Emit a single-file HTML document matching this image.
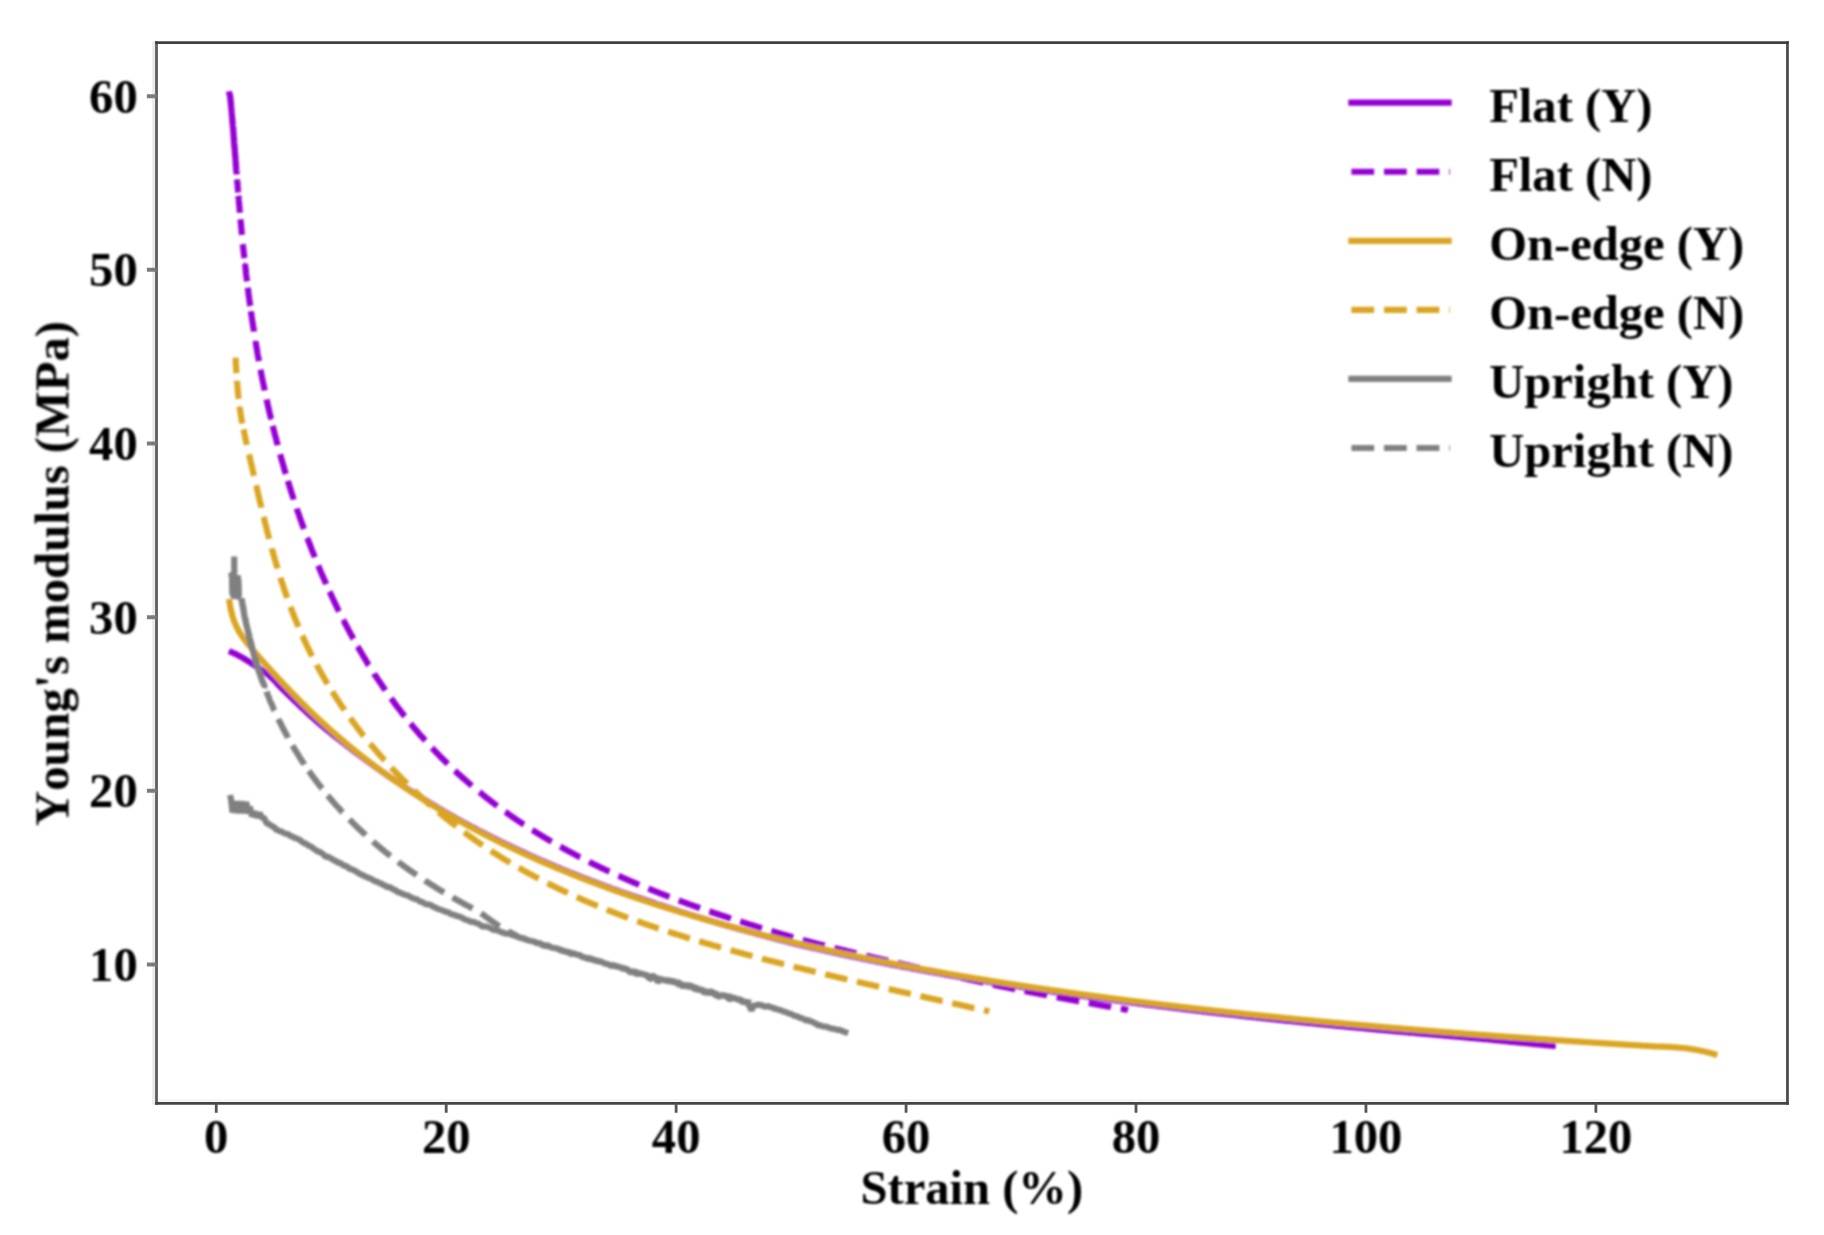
<!DOCTYPE html>
<html lang="en"><head><meta charset="utf-8"><title>Young's modulus vs strain</title>
<style>
html,body{margin:0;padding:0;background:#fff;}
body{width:1824px;height:1235px;overflow:hidden;}
svg{display:block;}
</style></head><body>
<svg width="1824" height="1235" viewBox="0 0 1824 1235">
<rect width="1824" height="1235" fill="#fff"/>
<filter id="soft" x="-2%" y="-2%" width="104%" height="104%"><feGaussianBlur stdDeviation="1"/></filter>
<clipPath id="ax"><rect x="156.5" y="42.7" width="1630.95" height="1060.6"/></clipPath>
<g filter="url(#soft)"><g clip-path="url(#ax)" fill="none" stroke-linejoin="bevel">
<path d="M231.7 652.2 L232.6 652.6 L233.5 653.0 L234.4 653.5 L235.3 653.9 L236.2 654.3 L237.1 654.8 L238.0 655.3 L238.9 655.7 L239.8 656.2 L240.7 656.7 L241.5 657.1 L242.4 657.6 L243.3 658.1 L244.1 658.7 L245.0 659.2 L245.8 659.7 L246.7 660.2 L247.5 660.8 L248.4 661.3 L249.2 661.8 L250.0 662.4 L250.9 662.9 L251.7 663.5 L252.6 664.0 L253.4 664.6 L254.3 665.1 L255.1 665.6 L255.9 666.2 L256.8 666.7 L257.6 667.3 L258.5 667.8 L259.3 668.4 L260.2 668.9 L261.0 669.5 L261.8 670.1 L262.6 670.6 L263.5 671.2 L264.3 671.8 L265.1 672.4 L265.9 673.0 L266.7 673.6 L267.5 674.2 L268.2 674.8 L269.0 675.5 L269.7 676.1 L270.5 676.7 L271.2 677.4 L272.0 678.1 L272.7 678.8 L273.4 679.5 L274.1 680.2 L274.8 680.9 L275.5 681.6 L276.1 682.4 L276.8 683.1 L277.5 683.9 L278.1 684.7 L278.8 685.4 L279.0 685.7 L280.5 687.2 L282.0 688.7 L283.5 690.1 L285.0 691.6 L286.5 693.0 L288.0 694.5 L289.5 695.9 L291.0 697.4 L292.5 698.8 L294.0 700.3 L295.5 701.7 L297.0 703.1 L298.5 704.6 L300.0 706.0 L301.5 707.4 L303.0 708.8 L304.5 710.2 L306.0 711.6 L307.5 713.0 L309.0 714.4 L310.5 715.8 L312.0 717.1 L313.5 718.5 L315.0 719.8 L316.5 721.1 L318.0 722.4 L319.5 723.7 L321.0 725.0 L322.5 726.2 L324.0 727.5 L325.5 728.7 L327.0 730.0 L328.5 731.2 L330.0 732.4 L331.5 733.6 L333.0 734.8 L334.5 736.0 L336.0 737.2 L337.5 738.4 L339.0 739.5 L340.5 740.7 L342.0 741.8 L343.5 743.0 L345.0 744.1 L346.5 745.3 L348.0 746.5 L349.5 747.7 L351.0 748.8 L352.5 750.0 L354.0 751.2 L355.5 752.3 L357.0 753.5 L358.5 754.6 L360.0 755.7 L361.5 756.8 L363.0 758.0 L364.5 759.1 L366.0 760.2 L367.5 761.3 L369.0 762.4 L370.5 763.4 L372.0 764.5 L373.5 765.6 L375.0 766.7 L376.5 767.7 L378.0 768.8 L379.5 769.8 L381.0 770.9 L382.5 772.0 L384.0 773.0 L385.5 774.1 L387.0 775.1 L388.5 776.2 L390.0 777.2 L391.5 778.2 L393.0 779.3 L394.5 780.3 L396.0 781.3 L397.5 782.3 L399.0 783.3 L400.5 784.3 L402.0 785.3 L403.5 786.3 L405.0 787.3 L406.5 788.2 L408.0 789.2 L409.5 790.2 L411.0 791.1 L412.5 792.1 L414.0 793.0 L415.5 794.0 L417.0 794.9 L418.5 795.9 L420.0 796.8 L421.5 797.7 L423.0 798.7 L424.5 799.6 L426.0 800.6 L427.5 801.5 L429.0 802.4 L430.5 803.3 L432.0 804.2 L433.5 805.1 L435.0 806.0 L436.5 806.9 L438.0 807.8 L439.5 808.7 L441.0 809.6 L442.5 810.5 L444.0 811.4 L445.5 812.2 L447.0 813.1 L448.5 814.0 L450.0 814.8 L451.5 815.7 L453.0 816.5 L454.5 817.4 L456.0 818.2 L457.5 819.1 L459.0 819.9 L460.5 820.7 L462.0 821.6 L463.5 822.4 L465.0 823.2 L466.5 824.0 L468.0 824.8 L469.5 825.6 L471.0 826.4 L472.5 827.2 L474.0 828.0 L475.5 828.8 L477.0 829.6 L478.5 830.4 L480.0 831.2 L481.5 831.9 L483.0 832.7 L484.5 833.5 L486.0 834.3 L487.5 835.0 L489.0 835.8 L490.5 836.5 L492.0 837.3 L493.5 838.0 L495.0 838.8 L496.5 839.5 L498.0 840.3 L499.5 841.0 L501.0 841.7 L502.5 842.5 L504.0 843.2 L505.5 843.9 L507.0 844.7 L508.5 845.4 L510.0 846.1 L511.5 846.8 L513.0 847.5 L514.5 848.2 L516.0 848.9 L517.5 849.7 L519.0 850.4 L520.5 851.1 L522.0 851.7 L523.5 852.4 L525.0 853.1 L526.5 853.8 L528.0 854.5 L529.5 855.2 L531.0 855.9 L532.5 856.5 L534.0 857.2 L535.5 857.9 L537.0 858.5 L538.5 859.2 L540.0 859.9 L541.5 860.5 L543.0 861.2 L544.5 861.8 L546.0 862.5 L547.5 863.1 L549.0 863.8 L550.5 864.4 L552.0 865.1 L553.5 865.7 L555.0 866.3 L556.5 867.0 L558.0 867.6 L559.5 868.2 L561.0 868.8 L562.5 869.5 L564.0 870.1 L565.5 870.7 L567.0 871.3 L568.5 871.9 L570.0 872.5 L571.5 873.1 L573.0 873.7 L574.5 874.3 L576.0 874.9 L577.5 875.5 L579.0 876.1 L580.5 876.7 L582.0 877.3 L583.5 877.9 L585.0 878.5 L586.5 879.0 L588.0 879.6 L589.5 880.2 L591.0 880.8 L592.5 881.3 L594.0 881.9 L595.5 882.5 L597.0 883.0 L598.5 883.6 L600.0 884.2 L601.5 884.7 L603.0 885.3 L604.5 885.8 L606.0 886.4 L607.5 886.9 L609.0 887.5 L610.5 888.0 L612.0 888.6 L613.5 889.1 L615.0 889.7 L616.5 890.2 L618.0 890.7 L619.5 891.3 L621.0 891.8 L622.5 892.3 L624.0 892.9 L625.5 893.4 L627.0 893.9 L628.5 894.4 L630.0 895.0 L631.5 895.5 L633.0 896.0 L634.5 896.5 L636.0 897.0 L637.5 897.5 L639.0 898.0 L640.5 898.5 L642.0 899.0 L643.5 899.5 L645.0 900.0 L646.5 900.5 L648.0 901.0 L649.5 901.5 L651.0 902.0 L652.5 902.5 L654.0 903.0 L655.5 903.5 L657.0 904.1 L658.5 904.6 L660.0 905.0 L661.5 905.5 L663.0 906.0 L664.5 906.5 L666.0 907.0 L667.5 907.5 L669.0 908.0 L670.5 908.5 L672.0 909.0 L673.5 909.4 L675.0 909.9 L676.5 910.4 L678.0 910.9 L679.5 911.4 L681.0 911.8 L682.5 912.3 L684.0 912.8 L685.5 913.2 L687.0 913.7 L688.5 914.2 L690.0 914.6 L691.5 915.1 L693.0 915.6 L694.5 916.0 L696.0 916.5 L697.5 916.9 L699.0 917.4 L700.5 917.8 L702.0 918.3 L703.5 918.8 L705.0 919.2 L706.5 919.6 L708.0 920.1 L709.5 920.5 L711.0 921.0 L712.5 921.4 L714.0 921.9 L715.5 922.3 L717.0 922.7 L718.5 923.2 L720.0 923.6 L721.5 924.0 L723.0 924.5 L724.5 924.9 L726.0 925.3 L727.5 925.8 L729.0 926.2 L730.5 926.6 L732.0 927.0 L733.5 927.5 L735.0 927.9 L736.5 928.3 L738.0 928.7 L739.5 929.1 L741.0 929.6 L742.5 930.0 L744.0 930.4 L745.5 930.8 L747.0 931.2 L748.5 931.6 L750.0 932.0 L751.5 932.4 L753.0 932.8 L754.5 933.2 L756.0 933.7 L757.5 934.1 L759.0 934.5 L760.5 934.9 L762.0 935.3 L763.5 935.6 L765.0 936.0 L766.5 936.4 L768.0 936.8 L769.5 937.2 L771.0 937.6 L772.5 938.0 L774.0 938.4 L775.5 938.8 L777.0 939.2 L778.5 939.6 L780.0 939.9 L781.5 940.3 L783.0 940.7 L784.5 941.1 L786.0 941.5 L787.5 941.8 L789.0 942.2 L790.5 942.6 L792.0 943.0 L793.5 943.3 L795.0 943.7 L796.5 944.1 L798.0 944.4 L799.5 944.8 L801.0 945.2 L802.5 945.5 L804.0 945.9 L805.5 946.2 L807.0 946.6 L808.5 946.9 L810.0 947.3 L811.5 947.6 L813.0 947.9 L814.5 948.3 L816.0 948.6 L817.5 949.0 L819.0 949.3 L820.5 949.6 L822.0 950.0 L823.5 950.3 L825.0 950.6 L826.5 951.0 L828.0 951.3 L829.5 951.6 L831.0 952.0 L832.5 952.3 L834.0 952.6 L835.5 953.0 L837.0 953.3 L838.5 953.6 L840.0 953.9 L841.5 954.2 L843.0 954.6 L844.5 954.9 L846.0 955.2 L847.5 955.5 L849.0 955.8 L850.5 956.2 L852.0 956.5 L853.5 956.8 L855.0 957.1 L856.5 957.4 L858.0 957.7 L859.5 958.0 L861.0 958.4 L862.5 958.7 L864.0 959.0 L865.5 959.3 L867.0 959.6 L868.5 959.9 L870.0 960.2 L871.5 960.5 L873.0 960.8 L874.5 961.1 L876.0 961.4 L877.5 961.7 L879.0 962.0 L880.5 962.3 L882.0 962.6 L883.5 962.9 L885.0 963.2 L886.5 963.5 L888.0 963.8 L889.5 964.1 L891.0 964.4 L892.5 964.7 L894.0 965.0 L895.5 965.2 L897.0 965.5 L898.5 965.8 L900.0 966.1 L901.5 966.4 L903.0 966.7 L904.5 967.0 L906.0 967.3 L907.5 967.5 L909.0 967.8 L910.5 968.1 L912.0 968.4 L913.5 968.7 L915.0 968.9 L916.5 969.2 L918.0 969.5 L919.5 969.8 L921.0 970.1 L922.5 970.3 L924.0 970.6 L925.5 970.9 L927.0 971.1 L928.5 971.4 L930.0 971.7 L931.5 972.0 L933.0 972.2 L934.5 972.5 L936.0 972.8 L937.5 973.0 L939.0 973.3 L940.5 973.6 L942.0 973.8 L943.5 974.1 L945.0 974.4 L946.5 974.6 L948.0 974.9 L949.5 975.2 L951.0 975.4 L952.5 975.7 L954.0 975.9 L955.5 976.2 L957.0 976.5 L958.5 976.7 L960.0 977.0 L961.5 977.2 L963.0 977.5 L964.5 977.7 L966.0 978.0 L967.5 978.3 L969.0 978.5 L970.5 978.8 L972.0 979.0 L973.5 979.3 L975.0 979.5 L976.5 979.8 L978.0 980.0 L979.5 980.3 L981.0 980.5 L982.5 980.8 L984.0 981.0 L985.5 981.2 L987.0 981.5 L988.5 981.7 L990.0 982.0 L991.5 982.2 L993.0 982.5 L994.5 982.7 L996.0 983.0 L997.5 983.2 L999.0 983.4 L1000.5 983.7 L1002.0 983.9 L1003.5 984.2 L1005.0 984.4 L1006.5 984.6 L1008.0 984.9 L1009.5 985.1 L1011.0 985.3 L1012.5 985.6 L1014.0 985.8 L1015.5 986.0 L1017.0 986.3 L1018.5 986.5 L1020.0 986.7 L1021.5 987.0 L1023.0 987.2 L1024.5 987.4 L1026.0 987.7 L1027.5 987.9 L1029.0 988.1 L1030.5 988.3 L1032.0 988.6 L1033.5 988.8 L1035.0 989.0 L1036.5 989.2 L1038.0 989.5 L1039.5 989.7 L1041.0 989.9 L1042.5 990.1 L1044.0 990.4 L1045.5 990.6 L1047.0 990.8 L1048.5 991.0 L1050.0 991.2 L1051.5 991.5 L1053.0 991.7 L1054.5 991.9 L1056.0 992.1 L1057.5 992.3 L1059.0 992.5 L1060.5 992.8 L1062.0 993.0 L1063.5 993.2 L1065.0 993.4 L1066.5 993.6 L1068.0 993.8 L1069.5 994.0 L1071.0 994.3 L1072.5 994.5 L1074.0 994.7 L1075.5 994.9 L1077.0 995.1 L1078.5 995.3 L1080.0 995.5 L1081.5 995.7 L1083.0 995.9 L1084.5 996.1 L1086.0 996.3 L1087.5 996.6 L1089.0 996.8 L1090.5 997.0 L1092.0 997.2 L1093.5 997.4 L1095.0 997.6 L1096.5 997.8 L1098.0 998.0 L1099.5 998.2 L1101.0 998.4 L1102.5 998.6 L1104.0 998.8 L1105.5 999.0 L1107.0 999.2 L1108.5 999.4 L1110.0 999.6 L1111.5 999.8 L1113.0 1000.0 L1114.5 1000.2 L1116.0 1000.4 L1117.5 1000.6 L1119.0 1000.8 L1120.5 1001.0 L1122.0 1001.2 L1123.5 1001.4 L1125.0 1001.6 L1126.5 1001.8 L1128.0 1002.0 L1129.5 1002.2 L1131.0 1002.4 L1132.5 1002.6 L1134.0 1002.8 L1135.5 1003.0 L1137.0 1003.2 L1138.5 1003.4 L1140.0 1003.6 L1141.5 1003.8 L1143.0 1004.0 L1144.5 1004.2 L1146.0 1004.4 L1147.5 1004.6 L1149.0 1004.8 L1150.5 1005.0 L1152.0 1005.1 L1153.5 1005.3 L1155.0 1005.5 L1156.5 1005.7 L1158.0 1005.9 L1159.5 1006.1 L1161.0 1006.3 L1162.5 1006.5 L1164.0 1006.7 L1165.5 1006.8 L1167.0 1007.0 L1168.5 1007.2 L1170.0 1007.4 L1171.5 1007.6 L1173.0 1007.8 L1174.5 1008.0 L1176.0 1008.1 L1177.5 1008.3 L1179.0 1008.5 L1180.5 1008.7 L1182.0 1008.9 L1183.5 1009.1 L1185.0 1009.2 L1186.5 1009.4 L1188.0 1009.6 L1189.5 1009.8 L1191.0 1010.0 L1192.5 1010.1 L1194.0 1010.3 L1195.5 1010.5 L1197.0 1010.7 L1198.5 1010.9 L1200.0 1011.0 L1201.5 1011.2 L1203.0 1011.4 L1204.5 1011.6 L1206.0 1011.7 L1207.5 1011.9 L1209.0 1012.1 L1210.5 1012.3 L1212.0 1012.4 L1213.5 1012.6 L1215.0 1012.8 L1216.5 1013.0 L1218.0 1013.1 L1219.5 1013.3 L1221.0 1013.5 L1222.5 1013.6 L1224.0 1013.8 L1225.5 1014.0 L1227.0 1014.2 L1228.5 1014.3 L1230.0 1014.5 L1231.5 1014.7 L1233.0 1014.8 L1234.5 1015.0 L1236.0 1015.2 L1237.5 1015.3 L1239.0 1015.5 L1240.5 1015.7 L1242.0 1015.9 L1243.5 1016.0 L1245.0 1016.2 L1246.5 1016.4 L1248.0 1016.5 L1249.5 1016.7 L1251.0 1016.9 L1252.5 1017.0 L1254.0 1017.2 L1255.5 1017.3 L1257.0 1017.5 L1258.5 1017.7 L1260.0 1017.8 L1261.5 1018.0 L1263.0 1018.2 L1264.5 1018.3 L1266.0 1018.5 L1267.5 1018.7 L1269.0 1018.8 L1270.5 1019.0 L1272.0 1019.1 L1273.5 1019.3 L1275.0 1019.5 L1276.5 1019.6 L1278.0 1019.8 L1279.5 1019.9 L1281.0 1020.1 L1282.5 1020.2 L1284.0 1020.4 L1285.5 1020.6 L1287.0 1020.7 L1288.5 1020.9 L1290.0 1021.0 L1291.5 1021.2 L1293.0 1021.3 L1294.5 1021.5 L1296.0 1021.7 L1297.5 1021.8 L1299.0 1022.0 L1300.5 1022.1 L1302.0 1022.3 L1303.5 1022.4 L1305.0 1022.6 L1306.5 1022.7 L1308.0 1022.9 L1309.5 1023.0 L1311.0 1023.2 L1312.5 1023.3 L1314.0 1023.5 L1315.5 1023.6 L1317.0 1023.8 L1318.5 1023.9 L1320.0 1024.1 L1321.5 1024.2 L1323.0 1024.4 L1324.5 1024.5 L1326.0 1024.7 L1327.5 1024.8 L1329.0 1025.0 L1330.5 1025.1 L1332.0 1025.3 L1333.5 1025.4 L1335.0 1025.6 L1336.5 1025.7 L1338.0 1025.9 L1339.5 1026.0 L1341.0 1026.2 L1342.5 1026.3 L1344.0 1026.5 L1345.5 1026.6 L1347.0 1026.7 L1348.5 1026.9 L1350.0 1027.0 L1351.5 1027.2 L1353.0 1027.3 L1354.5 1027.5 L1356.0 1027.6 L1357.5 1027.8 L1359.0 1027.9 L1360.5 1028.0 L1362.0 1028.2 L1363.5 1028.3 L1365.0 1028.5 L1366.5 1028.6 L1368.0 1028.7 L1369.5 1028.9 L1371.0 1029.0 L1372.5 1029.2 L1374.0 1029.3 L1375.5 1029.4 L1377.0 1029.6 L1378.5 1029.7 L1380.0 1029.9 L1381.5 1030.0 L1383.0 1030.1 L1384.5 1030.3 L1386.0 1030.4 L1387.5 1030.5 L1389.0 1030.7 L1390.5 1030.8 L1392.0 1031.0 L1393.5 1031.1 L1395.0 1031.2 L1396.5 1031.4 L1398.0 1031.5 L1399.5 1031.6 L1401.0 1031.8 L1402.5 1031.9 L1404.0 1032.0 L1405.5 1032.2 L1407.0 1032.3 L1408.5 1032.4 L1410.0 1032.6 L1411.5 1032.7 L1413.0 1032.8 L1414.5 1033.0 L1416.0 1033.1 L1417.5 1033.2 L1419.0 1033.4 L1420.5 1033.5 L1422.0 1033.6 L1423.5 1033.8 L1425.0 1033.9 L1426.5 1034.0 L1428.0 1034.1 L1429.5 1034.3 L1431.0 1034.4 L1432.5 1034.5 L1434.0 1034.7 L1435.5 1034.8 L1437.0 1034.9 L1438.5 1035.1 L1440.0 1035.2 L1441.5 1035.3 L1443.0 1035.4 L1444.5 1035.6 L1446.0 1035.7 L1447.5 1035.8 L1449.0 1035.9 L1450.5 1036.1 L1452.0 1036.2 L1453.5 1036.4 L1455.0 1036.5 L1456.5 1036.6 L1458.0 1036.8 L1459.5 1036.9 L1461.0 1037.0 L1462.5 1037.2 L1464.0 1037.3 L1465.5 1037.5 L1467.0 1037.6 L1468.5 1037.7 L1470.0 1037.9 L1471.5 1038.0 L1473.0 1038.1 L1474.5 1038.3 L1476.0 1038.4 L1477.5 1038.5 L1479.0 1038.7 L1480.5 1038.8 L1482.0 1038.9 L1483.5 1039.1 L1485.0 1039.2 L1486.5 1039.3 L1488.0 1039.5 L1489.5 1039.6 L1491.0 1039.8 L1492.5 1039.9 L1494.0 1040.1 L1495.5 1040.2 L1497.0 1040.4 L1498.5 1040.5 L1500.0 1040.7 L1501.5 1040.8 L1503.0 1041.0 L1504.5 1041.1 L1506.0 1041.3 L1507.5 1041.4 L1509.0 1041.6 L1510.5 1041.7 L1512.0 1041.9 L1513.5 1042.0 L1515.0 1042.2 L1516.5 1042.3 L1518.0 1042.5 L1519.5 1042.6 L1521.0 1042.7 L1522.5 1042.9 L1524.0 1043.0 L1525.5 1043.2 L1527.0 1043.3 L1528.5 1043.5 L1530.0 1043.6 L1531.5 1043.8 L1533.0 1043.9 L1534.5 1044.1 L1536.0 1044.2 L1537.5 1044.4 L1539.0 1044.5 L1540.5 1044.6 L1542.0 1044.8 L1543.5 1044.9 L1545.0 1045.1 L1546.5 1045.2 L1548.0 1045.4 L1549.5 1045.5 L1551.0 1045.6 L1552.5 1045.8 L1552.6 1045.8" stroke="#9400d3" stroke-width="6.15" stroke-linecap="square"/>
<path d="M228.9 91.8 L229.6 93.8 L229.0 92.0 L229.0 91.7 L229.2 92.6 L228.9 91.8 L230.2 96.6 L230.8 103.8 L230.2 95.5 L230.0 95.7 L230.8 102.0 L230.8 102.1 L230.7 101.7 L230.3 97.3 L230.7 102.6 L231.3 107.0 L230.3 97.7 L231.0 102.8 L230.2 96.5 L230.5 100.3 L230.4 98.4 L231.3 107.1 L230.7 102.8 L231.5 111.3 L231.5 111.5 L231.6 110.6 L230.6 99.8 L231.5 110.4 L231.8 113.6 L231.9 115.2 L231.3 107.9 L231.8 113.9 L231.6 112.2 L231.8 113.9 L232.7 123.9 L232.0 115.5 L232.4 120.1 L232.8 125.4 L232.2 119.0 L232.6 122.1 L232.6 124.0 L232.8 124.6 L232.2 119.0 L232.9 126.2 L233.5 133.4 L232.2 119.8 L233.4 132.5 L233.3 129.6 L233.0 126.6 L234.1 140.6 L233.4 135.2 L232.9 126.3 L233.4 133.4 L233.8 136.7 L233.5 133.7 L233.8 138.8 L233.5 135.9 L234.1 140.3 L234.3 145.0 L233.6 135.2 L234.1 140.4 L233.8 137.9 L234.2 141.6 L233.9 135.9 L233.9 139.7 L234.1 142.4 L234.7 148.6 L235.0 150.7 L233.8 139.2 L234.2 142.6 L234.7 150.6 L233.7 138.3 L234.6 146.7 L234.6 149.3 L235.3 156.8 L235.2 154.8 L234.8 150.5 L234.9 151.1 L234.9 152.5 L235.7 162.1 L235.0 153.2 L235.2 154.6 L235.4 158.7 L235.4 157.1 L235.4 157.6 L235.1 153.8 L235.6 160.1 L235.5 158.7 L236.2 167.5 L235.8 165.8 L235.7 163.2 L236.1 167.4 L235.8 163.2 L236.2 171.0 L236.0 166.5 L236.4 170.2 L235.7 161.7 L236.4 170.6 L235.5 161.3 L236.2 168.3 L236.4 171.0 L236.4 171.1 L236.6 173.1 L236.8 176.1 L236.6 173.6 L236.7 174.6 L236.8 176.3 L236.9 177.4 L236.9 177.5 L237.0 178.3 L237.1 180.0 L237.2 180.6 L237.1 179.8 L237.3 181.6 L237.3 182.5 L237.3 182.1 L237.5 184.3 L237.5 183.9 L237.7 186.7 L237.6 186.7 L237.8 187.3 L237.7 187.4 L237.9 188.7 L237.7 187.5 L237.9 189.2 L238.1 191.6 L238.0 189.8 L238.2 193.7 L238.1 191.8 L238.4 195.2 L238.3 194.3 L238.5 196.8 L238.6 196.9 L238.4 196.0 L238.8 199.7 L238.9 200.7 L238.8 199.9 L238.8 200.5 L238.9 201.4 L238.9 201.4 L239.1 204.3 L239.1 203.4 L239.2 204.7 L239.2 204.8 L239.3 205.7 L239.3 205.9 L239.6 209.2 L239.5 208.6 L239.7 210.5 L239.7 210.4 L239.7 210.5 L239.8 211.6 L239.9 212.2 L240.0 213.6 L240.0 214.0 L240.1 214.8 L240.1 214.6 L240.2 215.9 L240.4 219.2 L240.3 217.7 L240.4 218.1 L240.6 220.3 L240.7 222.1 L240.6 220.1 L240.7 222.1 L240.8 222.5 L240.8 222.2 L241.1 225.4 L241.1 225.5 L241.1 226.4 L241.1 226.4 L241.3 228.3 L241.3 228.2 L241.5 229.3 L241.4 229.2 L241.5 229.9 L241.8 233.2 L241.7 232.2 L241.9 233.7 L241.9 234.2 L241.9 234.6 L242.0 235.4 L242.2 237.3 L242.2 237.2 L242.3 238.1 L242.4 239.1 L242.6 240.9 L242.6 241.3 L242.7 241.8 L242.6 241.7 L242.6 241.7 L243.0 244.7 L243.0 245.5 L243.0 245.3 L243.1 246.7 L243.2 247.7 L243.3 248.6 L243.5 249.4 L243.4 249.0 L243.6 251.6 L243.4 249.8 L243.8 252.6 L243.8 253.0 L243.9 254.2 L244.1 255.9 L244.2 256.3 L244.0 254.7 L244.1 255.0 L244.3 258.1 L244.2 257.2 L244.5 258.9 L244.6 260.5 L244.4 259.1 L244.5 259.4 L244.9 262.3 L244.9 262.9 L244.9 263.5 L245.1 264.5 L245.0 264.5 L245.1 264.8 L245.3 266.7 L245.3 266.8 L245.4 267.0 L245.7 269.7 L245.7 270.0 L245.8 271.2 L245.8 270.8 L245.9 271.9 L245.9 272.4 L246.0 273.3 L246.2 275.0 L246.2 275.0 L246.4 276.7 L246.6 277.5 L246.8 279.7 L246.6 277.6 L246.9 280.3 L246.9 280.3 L247.0 281.2 L246.9 280.8 L247.1 282.4 L247.4 284.2 L247.4 284.3 L247.5 285.2 L247.6 285.7 L247.8 287.7 L247.8 287.5 L247.7 286.5 L247.9 288.6 L247.9 288.3 L247.9 288.1 L248.2 291.1 L248.6 293.4 L248.4 293.1 L248.5 293.0 L248.5 293.9 L248.9 296.4 L248.9 296.4 L249.0 297.1 L249.1 297.8 L249.2 298.7 L249.4 300.1 L249.5 300.7 L249.5 301.2 L249.5 301.0 L249.7 303.0 L249.8 302.9 L250.0 305.0 L250.0 304.0 L250.1 305.7 L250.3 306.6 L250.3 306.4 L250.7 309.4 L250.8 310.0 L250.6 309.4 L250.9 311.1 L251.0 311.6 L250.8 310.2 L251.1 313.1 L251.3 313.7 L251.4 314.6 L251.4 314.5 L251.6 315.9 L251.7 316.7 L252.0 318.5 L252.0 318.7 L252.0 319.2 L252.4 321.1 L252.2 320.4 L252.4 321.4 L252.4 321.1 L252.8 324.3 L252.9 324.7 L253.0 325.4 L253.1 326.0 L253.1 326.4 L253.3 327.3 L253.4 327.8 L253.5 328.6 L253.7 329.6 L253.9 331.1 L253.9 331.4 L254.0 331.9 L254.0 332.4 L254.2 333.1 L254.6 335.1 L254.5 335.3 L254.7 335.9 L254.7 336.5 L254.7 336.8 L255.0 338.2 L255.2 339.5 L255.2 339.6 L255.4 340.5 L255.5 341.3 L255.6 342.2 L255.7 342.1 L255.9 343.6 L256.0 344.1 L256.2 345.8 L256.2 345.7 L256.5 347.2 L256.7 348.5 L256.7 348.3 L256.8 348.9 L257.0 350.2 L257.1 350.9 L257.2 351.1 L257.4 352.7 L257.7 354.3 L257.6 353.9 L257.8 354.7 L257.8 355.0 L258.1 356.5 L258.1 356.5 L258.2 357.4 L258.6 359.4 L258.6 359.0 L258.9 360.9 L259.1 361.9 L259.1 362.0 L259.3 363.0 L259.6 364.5 L259.5 364.1 L259.6 364.7 L259.7 365.1 L260.0 366.6 L260.2 368.2 L260.3 368.7 L260.3 368.5 L260.5 369.3 L260.7 370.3 L260.9 371.5 L261.0 372.0 L261.2 373.0 L261.3 373.8 L261.4 374.3 L261.6 375.2 L261.8 376.1 L261.9 376.8 L262.1 377.9 L262.4 379.4 L262.4 379.5 L262.6 380.0 L262.5 379.8 L262.9 381.7 L262.8 381.3 L263.0 382.3 L263.4 384.3 L263.6 385.0 L263.6 385.4 L263.6 385.3 L263.9 386.8 L264.1 387.4 L264.4 388.9 L264.7 390.5 L264.7 390.2 L264.7 390.5 L264.8 391.1 L265.1 392.4 L265.2 393.2 L265.2 393.5 L265.6 394.9 L265.6 395.0 L266.1 397.0 L266.3 397.7 L266.4 398.5 L266.4 398.5 L266.7 399.8 L266.7 400.2 L267.0 400.9 L267.1 401.7 L267.1 402.0 L267.3 402.7 L267.7 404.6 L267.8 404.9 L268.0 405.9 L268.3 407.1 L268.1 406.4 L268.5 407.7 L268.7 409.0 L268.9 409.9 L269.0 410.3 L269.3 411.8 L269.5 412.1 L269.5 412.2 L269.7 413.1 L270.1 414.8 L270.2 415.4 L270.1 414.9 L270.7 417.4 L270.8 417.8 L271.1 418.9 L271.0 418.8 L271.2 419.6 L271.3 420.0 L271.9 422.7 L271.8 422.0 L272.2 423.7 L272.1 423.3 L272.4 424.6 L272.3 424.4 L272.7 425.8 L273.1 427.3 L273.0 426.9 L273.4 428.9 L273.6 429.3 L273.5 429.4 L273.8 430.4 L274.1 431.2 L274.3 432.2 L274.4 432.7 L274.5 433.4 L274.9 434.4 L274.9 434.8 L275.1 435.4 L275.5 436.9 L275.8 438.1 L275.7 437.6 L276.1 439.2 L276.3 439.6 L276.4 440.2 L276.8 442.0 L276.8 442.1 L277.3 443.9 L277.2 443.5 L277.6 444.8 L277.7 445.3 L277.8 445.8 L278.3 447.2 L278.4 447.6 L278.6 448.8 L278.8 449.2 L278.9 449.5 L279.1 450.8 L279.4 451.6 L279.7 452.8 L279.7 452.7 L280.0 453.9 L280.0 453.8 L280.5 455.8 L280.5 455.6 L280.6 456.0 L281.1 457.7 L281.4 459.1 L281.3 458.5 L281.6 459.5 L281.9 460.4 L282.0 461.0 L282.4 462.6 L282.5 462.7 L282.8 463.5 L283.1 465.0 L283.2 465.1 L283.6 466.4 L283.5 466.5 L283.7 467.1 L283.9 467.6 L284.6 470.2 L284.6 469.9 L284.8 471.0 L285.1 471.6 L285.4 472.4 L285.5 473.1 L286.1 474.8 L285.8 474.1 L286.0 474.6 L286.3 475.7 L286.5 476.3 L287.2 478.0 L287.3 478.9 L287.3 478.7 L287.4 479.3 L287.7 480.6 L288.3 482.2 L287.9 480.9 L288.6 483.3 L288.6 483.3 L289.2 485.1 L289.1 484.8 L289.5 486.0 L289.4 486.2 L289.8 487.2 L290.4 489.1 L290.6 489.6 L290.6 489.7 L290.8 490.3 L290.8 490.5 L291.3 492.0 L291.6 493.0 L291.9 493.7 L292.2 494.5 L292.1 494.7 L292.6 496.0 L292.9 496.8 L293.3 498.2 L293.6 499.3 L293.6 499.0 L293.8 499.5 L294.0 500.6 L294.3 501.1 L294.5 501.8 L294.9 502.9 L295.0 503.1 L295.5 504.7 L295.6 505.1 L295.9 506.0 L296.1 506.6 L296.3 507.1 L296.6 507.7 L296.9 508.8 L297.1 509.4 L297.4 510.6 L297.6 511.2 L297.6 511.3 L298.2 512.8 L298.3 512.8 L298.7 513.9 L299.1 514.8 L298.9 514.7 L299.5 516.6 L299.8 517.4 L300.0 518.0 L300.2 518.6 L300.5 519.4 L300.6 519.8 L301.0 520.9 L301.3 521.5 L301.7 522.6 L301.8 522.7 L302.1 524.2 L302.4 524.9 L302.7 525.5 L303.0 526.1 L303.3 527.3 L303.2 527.0 L303.9 528.8 L304.1 529.4 L304.4 530.2 L304.7 531.0 L304.7 531.3 L305.1 532.2 L305.6 533.4 L305.8 534.0 L306.1 534.7 L306.0 534.6 L306.7 536.3 L307.0 537.4 L307.3 538.1 L307.5 538.4 L307.4 538.3 L308.2 540.3 L308.2 540.5 L308.1 540.1 L309.0 542.2 L308.9 542.1 L309.2 542.9 L309.6 544.0 L310.3 545.6 L310.2 545.6 L310.6 546.7 L311.2 548.1 L311.5 548.8 L311.4 548.7 L311.7 549.4 L311.8 549.7 L312.1 550.7 L312.7 552.0 L313.0 552.7 L313.3 553.3 L313.7 554.5 L313.6 554.4 L314.1 555.4 L314.6 556.6 L314.8 557.2 L315.1 558.3 L315.4 558.6 L315.5 559.0 L315.9 560.1 L316.1 560.1 L316.2 560.6 L316.9 562.4 L317.0 562.9 L317.5 563.8 L317.4 563.6 L317.9 564.9 L318.2 565.6 L318.5 566.2 L318.5 566.3 L319.2 567.9 L319.7 569.2 L319.9 569.7 L320.0 570.0 L320.4 571.0 L320.9 572.1 L320.5 571.2 L321.4 573.2 L321.8 574.2 L322.1 575.0 L322.7 576.2 L322.9 576.7 L323.1 577.0 L323.4 577.8 L323.8 578.7 L323.9 578.8 L324.4 579.8 L324.8 581.0 L325.4 582.1 L325.2 581.9 L325.6 582.7 L326.0 583.5 L326.5 584.8 L326.5 584.9 L327.2 586.3 L326.9 586.0 L327.4 587.1 L327.9 587.7 L328.3 589.0 L328.7 589.8 L328.5 589.4 L329.0 590.4 L329.6 591.6 L329.8 591.9 L329.9 592.2 L330.8 594.1 L331.0 594.6 L331.4 595.3 L331.5 595.6 L332.1 597.1 L332.2 597.2 L332.8 598.5 L332.8 598.3 L333.1 599.1 L333.7 600.3 L333.8 600.6 L334.4 601.9 L334.6 602.5 L334.8 602.7 L335.3 603.8 L335.6 604.4 L336.2 605.7 L336.2 605.7 L336.5 606.5 L337.3 608.0 L337.9 609.1 L338.2 609.7 L338.1 609.6 L338.4 610.4 L339.1 611.7 L339.1 611.7 L339.3 612.0 L339.9 613.2 L340.3 614.1 L340.4 614.2 L340.7 614.5 L340.9 615.4 L341.8 617.0 L341.9 617.1 L342.4 618.1 L342.9 618.9 L343.1 619.9 L343.4 620.2 L344.1 621.2 L344.0 621.3 L344.5 622.3 L344.6 622.7 L345.6 624.3 L345.8 624.5 L345.9 624.9 L346.4 625.8 L346.8 626.6 L347.5 627.6 L347.2 627.4 L347.6 628.4 L348.3 629.3 L349.2 631.3 L349.3 631.3 L349.3 631.6 L350.0 632.6 L350.7 633.9 L350.5 633.7 L350.8 634.3 L351.7 635.6 L351.8 636.1 L352.3 636.8 L352.5 637.0 L353.2 638.8 L353.7 639.4 L353.8 639.6 L354.2 640.3 L354.1 639.8 L355.1 641.7 L355.2 642.0 L355.7 643.0 L356.2 643.8 L356.3 644.1 L356.4 644.2 L357.2 645.8 L357.4 646.0 L358.0 646.8 L358.2 647.5 L358.8 648.2 L358.6 648.2 L359.8 650.3 L360.0 650.6 L360.7 651.6 L361.2 652.6 L361.2 652.5 L361.1 652.6 L361.8 653.6 L362.2 654.1 L362.7 655.1 L363.2 656.0 L363.2 655.9 L364.1 657.5 L364.1 657.5 L365.0 658.8 L365.3 659.4 L365.7 660.0 L366.1 660.7 L366.4 661.3 L366.7 662.0 L366.9 662.3 L367.8 663.5 L368.5 664.9 L369.1 665.6 L369.3 666.0 L369.6 666.5 L369.7 666.7 L370.5 668.2 L370.7 668.3 L371.2 668.9 L371.5 669.6 L372.1 670.3 L372.4 670.8 L373.0 671.5 L373.0 672.0 L373.6 672.9 L374.6 674.5 L374.6 674.3 L374.9 675.0 L375.6 675.9 L376.0 676.6 L376.2 676.6 L376.8 677.6 L377.4 678.7 L377.7 679.1 L378.2 679.7 L378.9 680.9 L378.9 680.8 L379.5 681.7 L379.8 682.2 L380.7 683.5 L380.5 683.0 L381.2 684.1 L381.5 684.9 L382.4 685.8 L382.7 686.5 L383.3 687.4 L383.1 687.2 L384.2 688.5 L384.4 688.9 L384.7 689.4 L385.4 690.5 L385.6 690.6 L385.9 690.9 L386.6 692.2 L386.8 692.5 L387.5 693.4 L388.2 694.3 L388.6 695.0 L389.3 696.0 L389.4 696.1 L389.7 696.3 L390.3 697.2 L390.7 697.8 L391.2 698.4 L391.9 699.5 L392.2 699.9 L392.4 700.1 L393.4 701.5 L393.8 701.9 L394.3 702.7 L394.7 703.3 L395.3 704.1 L395.6 704.6 L396.4 705.5 L396.7 705.9 L397.1 706.6 L397.6 707.2 L397.7 707.4 L398.5 708.4 L399.0 708.9 L399.5 709.7 L399.8 709.9 L400.8 711.3 L400.9 711.7 L401.2 711.9 L401.6 712.4 L402.4 713.4 L402.8 714.1 L403.3 714.5 L403.9 715.4 L404.3 715.8 L405.1 716.7 L405.2 717.1 L405.8 717.9 L406.6 718.7 L407.4 719.7 L407.2 719.5 L407.9 720.2 L408.2 720.8 L409.0 721.8 L409.2 722.0 L409.8 722.7 L410.4 723.5 L410.8 723.9 L411.3 724.5 L411.9 725.1 L412.1 725.5 L412.7 726.3 L413.5 727.0 L414.1 727.8 L414.5 728.3 L414.7 728.6 L415.5 729.5 L416.3 730.3 L416.7 730.9 L417.2 731.3 L417.5 731.8 L418.3 732.7 L418.6 733.1 L419.0 733.6 L419.5 734.4 L420.5 735.3 L420.8 735.7 L421.6 736.4 L421.8 736.7 L422.6 737.5 L422.9 737.9 L423.5 738.5 L424.4 739.6 L424.7 739.9 L425.0 740.3 L425.6 740.9 L426.2 741.6 L426.8 742.4 L427.1 742.7 L427.5 743.1 L428.2 743.9 L428.8 744.5 L429.4 745.2 L430.2 745.9 L430.4 746.4 L431.1 747.0 L431.4 747.3 L432.3 748.1 L432.9 749.0 L433.4 749.3 L433.8 749.8 L434.3 750.4 L435.1 751.2 L435.3 751.4 L435.9 752.1 L436.6 752.7 L437.2 753.4 L437.6 753.7 L438.3 754.4 L438.7 754.9 L439.4 755.5 L439.8 756.2 L440.3 756.5 L440.9 757.3 L441.7 757.9 L442.0 758.3 L442.7 758.9 L443.4 759.6 L443.7 760.0 L444.4 760.7 L444.9 761.0 L445.6 761.9 L446.4 762.6 L446.9 763.1 L447.2 763.4 L447.9 764.1 L448.5 764.5 L448.9 765.2 L449.7 765.8 L450.0 766.1 L450.9 766.8 L451.3 767.3 L452.1 768.0 L452.5 768.5 L453.0 768.9 L453.7 769.5 L454.3 770.1 L454.8 770.7 L455.4 771.2 L455.9 771.6 L456.3 772.1 L457.2 772.9 L457.8 773.4 L458.3 773.9 L459.0 774.4 L459.6 775.0 L460.1 775.4 L460.6 775.9 L461.3 776.5 L462.0 777.2 L462.3 777.5 L463.2 778.2 L463.6 778.6 L464.2 779.1 L465.0 779.8 L465.5 780.2 L466.0 780.7 L466.6 781.3 L467.4 781.9 L468.0 782.4 L468.5 782.9 L469.1 783.4 L469.8 784.0 L470.2 784.4 L470.9 785.0 L471.5 785.5 L472.1 786.0 L472.7 786.5 L473.4 787.0 L473.9 787.6 L474.5 788.1 L475.1 788.6 L475.9 789.1 L476.4 789.7 L477.1 790.2 L477.7 790.7 L478.3 791.2 L479.0 791.8 L479.5 792.1 L480.2 792.7 L480.7 793.2 L481.5 793.7 L482.1 794.2 L482.5 794.6 L483.2 795.1 L483.9 795.7 L484.6 796.2 L485.2 796.7 L485.7 797.2 L486.4 797.7 L487.1 798.1 L487.6 798.6 L488.3 799.2 L488.8 799.5 L489.6 800.1 L490.1 800.6 L490.9 801.1 L491.4 801.6 L492.0 802.0 L492.7 802.6 L493.3 803.0 L494.0 803.5 L494.6 804.0 L495.3 804.5 L495.9 805.0 L496.6 805.5 L497.2 805.9 L497.8 806.4 L498.5 806.9 L499.1 807.3 L499.8 807.8 L500.4 808.3 L501.0 808.8 L501.7 809.2 L502.3 809.7 L503.0 810.2 L503.6 810.6 L504.3 811.1 L504.9 811.6 L505.6 812.0 L506.2 812.5 L506.9 813.0 L507.6 813.4 L508.2 813.9 L508.9 814.4 L509.5 814.8 L510.2 815.3 L510.8 815.7 L511.5 816.2 L512.1 816.6 L512.8 817.1 L513.4 817.6 L514.1 818.0 L514.8 818.5 L515.4 818.9 L516.1 819.4 L516.8 819.8 L517.4 820.3 L518.1 820.7 L518.7 821.2 L519.4 821.6 L520.1 822.0 L520.7 822.5 L521.4 822.9 L522.1 823.4 L522.7 823.8 L523.4 824.3 L524.1 824.7 L524.7 825.1 L525.4 825.6 L526.1 826.0 L526.8 826.4 L527.4 826.9 L528.1 827.3 L528.8 827.7 L529.4 828.2 L530.1 828.6 L530.8 829.0 L531.5 829.5 L532.1 829.9 L532.8 830.3 L533.5 830.7 L534.2 831.2 L534.9 831.6 L535.5 832.0 L536.2 832.4 L536.9 832.9 L537.6 833.3 L538.3 833.7 L538.9 834.1 L539.6 834.5 L540.3 834.9 L541.0 835.4 L541.7 835.8 L542.4 836.2 L543.0 836.6 L543.7 837.0 L544.4 837.4 L545.1 837.8 L545.8 838.3 L546.5 838.7 L547.2 839.1 L547.8 839.5 L548.5 839.9 L549.2 840.3 L549.9 840.7 L550.6 841.1 L551.3 841.5 L552.0 841.9 L552.7 842.3 L553.4 842.7 L554.1 843.1 L554.8 843.5 L555.5 843.9 L556.2 844.3 L556.9 844.7 L557.5 845.1 L558.2 845.5 L558.9 845.9 L559.6 846.3 L560.3 846.6 L561.0 847.0 L561.7 847.4 L562.4 847.8 L563.1 848.2 L563.8 848.6 L564.5 849.0 L565.2 849.4 L565.9 849.7 L566.6 850.1 L567.3 850.5 L568.0 850.9 L568.7 851.3 L569.4 851.7 L570.2 852.0 L570.9 852.4 L571.6 852.8 L572.3 853.2 L573.0 853.5 L573.7 853.9 L574.4 854.3 L575.1 854.7 L575.8 855.0 L576.5 855.4 L577.2 855.8 L577.9 856.2 L578.6 856.5 L579.3 856.9 L580.1 857.3 L580.8 857.6 L581.5 858.0 L582.2 858.4 L582.9 858.7 L583.6 859.1 L584.3 859.5 L585.0 859.8 L585.8 860.2 L586.5 860.5 L587.2 860.9 L587.9 861.3 L588.6 861.6 L589.3 862.0 L590.0 862.3 L590.8 862.7 L591.5 863.1 L592.2 863.4 L592.9 863.8 L593.6 864.1 L594.3 864.5 L595.1 864.8 L595.8 865.2 L596.5 865.5 L597.2 865.9 L597.9 866.2 L598.7 866.6 L599.4 866.9 L600.1 867.3 L600.8 867.6 L601.5 868.0 L602.3 868.3 L603.0 868.6 L603.7 869.0 L604.4 869.3 L605.2 869.7 L605.9 870.0 L606.6 870.3 L607.3 870.7 L608.1 871.0 L608.8 871.4 L609.5 871.7 L610.2 872.0 L611.0 872.4 L611.7 872.7 L612.4 873.0 L613.1 873.4 L613.9 873.7 L614.6 874.0 L615.3 874.4 L616.1 874.7 L616.8 875.0 L617.5 875.4 L618.2 875.7 L619.0 876.0 L619.7 876.3 L620.4 876.7 L621.2 877.0 L621.9 877.3 L622.6 877.6 L623.4 878.0 L624.1 878.3 L624.8 878.6 L625.5 878.9 L626.3 879.3 L627.0 879.6 L627.7 879.9 L628.5 880.2 L629.2 880.5 L629.9 880.9 L630.7 881.2 L631.4 881.5 L632.2 881.8 L632.9 882.1 L633.6 882.4 L634.4 882.8 L635.1 883.1 L635.8 883.4 L636.6 883.7 L637.3 884.0 L638.0 884.3 L638.8 884.6 L639.5 884.9 L640.3 885.2 L641.0 885.6 L641.7 885.9 L642.5 886.2 L643.2 886.5 L643.9 886.8 L644.7 887.1 L645.4 887.4 L646.2 887.7 L646.9 888.0 L647.6 888.3 L648.4 888.6 L649.1 888.9 L649.9 889.2 L650.6 889.5 L651.4 889.8 L652.1 890.1 L652.8 890.4 L653.6 890.7 L654.3 891.0 L655.1 891.3 L655.8 891.6 L656.6 891.9 L657.3 892.2 L658.0 892.5 L658.8 892.8 L659.5 893.1 L660.3 893.4 L661.0 893.7 L661.8 893.9 L662.5 894.2 L663.3 894.5 L664.0 894.8 L664.7 895.1 L665.5 895.4 L666.2 895.7 L667.0 896.0 L667.7 896.3 L668.5 896.5 L669.2 896.8 L670.0 897.1 L670.7 897.4 L671.5 897.7 L672.2 898.0 L673.0 898.3 L673.7 898.5 L674.5 898.8 L675.2 899.1 L676.0 899.4 L676.7 899.7 L677.5 899.9 L678.2 900.2 L679.0 900.5 L679.7 900.8 L680.5 901.1 L681.2 901.3 L682.0 901.6 L682.7 901.9 L683.5 902.2 L684.2 902.4 L685.0 902.7 L685.7 903.0 L686.5 903.3 L687.2 903.5 L688.0 903.8 L688.7 904.1 L689.5 904.4 L690.2 904.6 L691.0 904.9 L691.7 905.2 L692.5 905.4 L693.2 905.7 L694.0 906.0 L694.7 906.2 L695.5 906.5 L696.2 906.8 L697.0 907.0 L697.8 907.3 L698.5 907.6 L699.3 907.8 L700.0 908.1 L700.8 908.4 L701.5 908.6 L702.3 908.9 L703.0 909.2 L703.8 909.4 L704.6 909.7 L705.3 909.9 L706.1 910.2 L706.8 910.5 L707.6 910.7 L708.3 911.0 L709.1 911.3 L709.9 911.5 L710.6 911.8 L711.4 912.0 L712.1 912.3 L712.9 912.5 L713.6 912.8 L714.4 913.1 L715.2 913.3 L715.9 913.6 L716.7 913.8 L717.4 914.1 L718.2 914.3 L718.9 914.6 L719.7 914.8 L720.5 915.1 L721.2 915.3 L722.0 915.6 L722.7 915.8 L723.5 916.1 L724.3 916.3 L725.0 916.6 L725.8 916.8 L726.5 917.1 L727.3 917.3 L728.1 917.6 L728.8 917.8 L729.6 918.1 L730.3 918.3 L731.1 918.6 L731.9 918.8 L732.6 919.1 L733.4 919.3 L734.2 919.6 L734.9 919.8 L735.7 920.0 L736.4 920.3 L737.2 920.5 L738.0 920.8 L738.7 921.0 L739.5 921.3 L740.2 921.5 L741.0 921.7 L741.8 922.0 L742.5 922.2 L743.3 922.5 L744.1 922.7 L744.8 922.9 L745.6 923.2 L746.4 923.4 L747.1 923.7 L747.9 923.9 L748.6 924.1 L749.4 924.4 L750.2 924.6 L750.9 924.8 L751.7 925.1 L752.5 925.3 L753.2 925.6 L754.0 925.8 L754.8 926.0 L755.5 926.3 L756.3 926.5 L757.1 926.7 L757.8 927.0 L758.6 927.2 L759.4 927.4 L760.1 927.7 L760.9 927.9 L761.7 928.1 L762.4 928.3 L763.2 928.6 L763.9 928.8 L764.7 929.0 L765.5 929.3 L766.2 929.5 L767.0 929.7 L767.8 929.9 L768.5 930.2 L769.3 930.4 L770.1 930.6 L770.9 930.9 L771.6 931.1 L772.4 931.3 L773.2 931.5 L773.9 931.8 L774.7 932.0 L775.5 932.2 L776.2 932.4 L777.0 932.7 L777.8 932.9 L778.5 933.1 L779.3 933.3 L780.1 933.6 L780.8 933.8 L781.6 934.0 L782.4 934.2 L783.1 934.4 L783.9 934.7 L784.7 934.9 L785.4 935.1 L786.2 935.3 L787.0 935.5 L787.8 935.8 L788.5 936.0 L789.3 936.2 L790.1 936.4 L790.8 936.6 L791.6 936.8 L792.4 937.1 L793.1 937.3 L793.9 937.5 L794.7 937.7 L795.5 937.9 L796.2 938.1 L797.0 938.4 L797.8 938.6 L798.5 938.8 L799.3 939.0 L800.1 939.2 L800.8 939.4 L801.6 939.6 L802.4 939.8 L803.2 940.0 L803.9 940.2 L804.7 940.4 L805.5 940.7 L806.3 940.9 L807.0 941.1 L807.8 941.3 L808.6 941.5 L809.4 941.7 L810.1 941.9 L810.9 942.1 L811.7 942.3 L812.5 942.5 L813.2 942.7 L814.0 942.9 L814.8 943.1 L815.6 943.3 L816.3 943.5 L817.1 943.7 L817.9 943.9 L818.7 944.1 L819.4 944.3 L820.2 944.5 L821.0 944.7 L821.8 944.9 L822.5 945.0 L823.3 945.2 L824.1 945.4 L824.9 945.6 L825.6 945.8 L826.4 946.0 L827.2 946.2 L828.0 946.4 L828.7 946.6 L829.5 946.8 L830.3 947.0 L831.1 947.2 L831.8 947.4 L832.6 947.6 L833.4 947.8 L834.2 948.0 L834.9 948.2 L835.7 948.4 L836.5 948.5 L837.3 948.7 L838.1 948.9 L838.8 949.1 L839.6 949.3 L840.4 949.5 L841.2 949.7 L841.9 949.9 L842.7 950.1 L843.5 950.3 L844.3 950.4 L845.0 950.6 L845.8 950.8 L846.6 951.0 L847.4 951.2 L848.2 951.4 L848.9 951.6 L849.7 951.8 L850.5 952.0 L851.3 952.1 L852.0 952.3 L852.8 952.5 L853.6 952.7 L854.4 952.9 L855.2 953.1 L855.9 953.3 L856.7 953.5 L857.5 953.7 L858.3 953.8 L859.0 954.0 L859.8 954.2 L860.6 954.4 L861.4 954.6 L862.2 954.8 L862.9 955.0 L863.7 955.1 L864.5 955.3 L865.3 955.5 L866.0 955.7 L866.8 955.9 L867.6 956.1 L868.4 956.3 L869.2 956.4 L869.9 956.6 L870.7 956.8 L871.5 957.0 L872.3 957.2 L873.1 957.4 L873.8 957.5 L874.6 957.7 L875.4 957.9 L876.2 958.1 L876.9 958.3 L877.7 958.4 L878.5 958.6 L879.3 958.8 L880.1 959.0 L880.8 959.2 L881.6 959.4 L882.4 959.5 L883.2 959.7 L884.0 959.9 L884.7 960.1 L885.5 960.3 L886.3 960.4 L887.1 960.6 L887.9 960.8 L888.6 961.0 L889.4 961.1 L890.2 961.3 L891.0 961.5 L891.8 961.7 L892.5 961.9 L893.3 962.0 L894.1 962.2 L894.9 962.4 L895.7 962.6 L896.4 962.7 L897.2 962.9 L898.0 963.1 L898.8 963.3 L899.6 963.4 L900.3 963.6 L901.1 963.8 L901.9 964.0 L902.7 964.2 L903.5 964.3 L904.2 964.5 L905.0 964.7 L905.8 964.9 L906.6 965.1 L907.4 965.3 L908.1 965.4 L908.9 965.6 L909.7 965.8 L910.5 966.0 L911.3 966.2 L912.0 966.3 L912.8 966.5 L913.6 966.7 L914.4 966.9 L915.1 967.1 L915.9 967.2 L916.7 967.4 L917.5 967.6 L918.3 967.8 L919.0 968.0 L919.8 968.1 L920.6 968.3 L921.4 968.5 L922.2 968.7 L922.9 968.9 L923.7 969.0 L924.5 969.2 L925.3 969.4 L926.1 969.6 L926.8 969.7 L927.6 969.9 L928.4 970.1 L929.2 970.3 L930.0 970.4 L930.7 970.6 L931.5 970.8 L932.3 971.0 L933.1 971.2 L933.9 971.4 L934.6 971.5 L935.4 971.7 L936.2 971.9 L937.0 972.1 L937.8 972.3 L938.5 972.4 L939.3 972.6 L940.1 972.8 L940.9 973.0 L941.7 973.2 L942.4 973.3 L943.2 973.5 L944.0 973.7 L944.8 973.9 L945.6 974.1 L946.3 974.2 L947.1 974.4 L947.9 974.6 L948.7 974.8 L949.5 975.0 L950.2 975.1 L951.0 975.3 L951.8 975.5 L952.6 975.7 L953.4 975.9 L954.1 976.0 L954.9 976.2 L955.7 976.4 L956.5 976.6 L957.3 976.7 L958.0 976.9 L958.8 977.1 L959.6 977.3 L960.4 977.4 L961.2 977.6 L961.9 977.8 L962.7 978.0 L963.5 978.1 L964.3 978.3 L965.1 978.5 L965.8 978.7 L966.6 978.8 L967.4 979.0 L968.2 979.2 L969.0 979.4 L969.7 979.5 L970.5 979.7 L971.3 979.9 L972.1 980.1 L972.9 980.2 L973.6 980.4 L974.4 980.6 L975.2 980.8 L976.0 980.9 L976.8 981.1 L977.6 981.3 L978.3 981.4 L979.1 981.6 L979.9 981.8 L980.7 982.0 L981.5 982.1 L982.2 982.3 L983.0 982.5 L983.8 982.6 L984.6 982.8 L985.4 983.0 L986.1 983.2 L986.9 983.3 L987.7 983.5 L988.5 983.7 L989.3 983.8 L990.1 984.0 L990.8 984.2 L991.6 984.3 L992.4 984.5 L993.2 984.7 L994.0 984.8 L994.8 985.0 L995.5 985.2 L996.3 985.3 L997.1 985.5 L997.9 985.7 L998.7 985.9 L999.4 986.0 L1000.2 986.2 L1001.0 986.3 L1001.8 986.5 L1002.6 986.7 L1003.4 986.8 L1004.1 987.0 L1004.9 987.1 L1005.7 987.3 L1006.5 987.4 L1007.3 987.6 L1008.1 987.8 L1008.9 987.9 L1009.6 988.1 L1010.4 988.2 L1011.2 988.4 L1012.0 988.5 L1012.8 988.7 L1013.6 988.8 L1014.3 989.0 L1015.1 989.2 L1015.9 989.3 L1016.7 989.5 L1017.5 989.6 L1018.3 989.8 L1019.1 989.9 L1019.8 990.1 L1020.6 990.2 L1021.4 990.4 L1022.2 990.5 L1023.0 990.7 L1023.8 990.9 L1024.6 991.0 L1025.3 991.2 L1026.1 991.3 L1026.9 991.5 L1027.7 991.6 L1028.5 991.8 L1029.3 991.9 L1030.0 992.1 L1030.8 992.2 L1031.6 992.4 L1032.4 992.5 L1033.2 992.7 L1034.0 992.8 L1034.8 993.0 L1035.5 993.1 L1036.3 993.3 L1037.1 993.4 L1037.9 993.6 L1038.7 993.7 L1039.5 993.9 L1040.3 994.0 L1041.0 994.2 L1041.8 994.3 L1042.6 994.5 L1043.4 994.6 L1044.2 994.8 L1045.0 994.9 L1045.8 995.1 L1046.5 995.2 L1047.3 995.4 L1048.1 995.5 L1048.9 995.7 L1049.7 995.8 L1050.5 996.0 L1051.3 996.1 L1052.0 996.3 L1052.8 996.4 L1053.6 996.6 L1054.4 996.7 L1055.2 996.9 L1056.0 997.0 L1056.8 997.2 L1057.6 997.3 L1058.3 997.5 L1059.1 997.6 L1059.9 997.8 L1060.7 997.9 L1061.5 998.1 L1062.3 998.2 L1063.1 998.4 L1063.8 998.5 L1064.6 998.6 L1065.4 998.8 L1066.2 998.9 L1067.0 999.1 L1067.8 999.2 L1068.6 999.4 L1069.4 999.5 L1070.1 999.7 L1070.9 999.8 L1071.7 1000.0 L1072.5 1000.1 L1073.3 1000.2 L1074.1 1000.4 L1074.9 1000.5 L1075.6 1000.7 L1076.4 1000.8 L1077.2 1001.0 L1078.0 1001.1 L1078.8 1001.3 L1079.6 1001.4 L1080.4 1001.5 L1081.2 1001.7 L1081.9 1001.8 L1082.7 1002.0 L1083.5 1002.1 L1084.3 1002.3 L1085.1 1002.4 L1085.9 1002.5 L1086.7 1002.7 L1087.4 1002.8 L1088.2 1003.0 L1089.0 1003.1 L1089.8 1003.3 L1090.6 1003.4 L1091.4 1003.5 L1092.2 1003.7 L1093.0 1003.8 L1093.7 1004.0 L1094.5 1004.1 L1095.3 1004.3 L1096.1 1004.4 L1096.9 1004.5 L1097.7 1004.7 L1098.5 1004.8 L1099.3 1005.0 L1100.0 1005.1 L1100.8 1005.2 L1101.6 1005.4 L1102.4 1005.5 L1103.2 1005.7 L1104.0 1005.8 L1104.8 1005.9 L1105.6 1006.1 L1106.3 1006.2 L1107.1 1006.4 L1107.9 1006.5 L1108.7 1006.6 L1109.5 1006.8 L1110.3 1006.9 L1111.1 1007.1 L1111.9 1007.2 L1112.7 1007.3 L1113.4 1007.5 L1114.2 1007.6 L1115.0 1007.7 L1115.8 1007.9 L1116.6 1008.0 L1117.4 1008.2 L1118.2 1008.3 L1119.0 1008.4 L1119.7 1008.6 L1120.5 1008.7 L1121.3 1008.8 L1122.1 1009.0 L1122.9 1009.1 L1123.7 1009.3 L1124.5 1009.4 L1125.3 1009.5 L1126.0 1009.7 L1126.8 1009.8 L1127.6 1009.9 L1128.0 1010.0" stroke="#9400d3" stroke-width="6.15" stroke-dasharray="22.76 9.84" stroke-linecap="butt"/>
<path d="M229.5 602.0 L229.6 603.0 L229.8 604.0 L230.0 605.0 L230.1 606.0 L230.3 607.0 L230.5 607.9 L230.7 608.9 L230.9 609.9 L231.2 610.9 L231.4 611.8 L231.6 612.8 L231.9 613.8 L232.1 614.8 L232.4 615.7 L232.7 616.7 L233.0 617.6 L233.3 618.6 L233.6 619.5 L233.9 620.5 L234.2 621.4 L234.6 622.4 L235.0 623.3 L235.4 624.2 L235.8 625.1 L236.2 626.0 L236.6 626.9 L237.0 627.8 L237.5 628.7 L238.0 629.6 L238.4 630.5 L238.9 631.3 L239.5 632.2 L240.0 633.1 L240.5 633.9 L241.1 634.7 L241.6 635.6 L242.2 636.4 L242.8 637.2 L243.3 638.0 L243.9 638.8 L244.5 639.6 L245.1 640.4 L245.8 641.2 L246.4 642.0 L247.0 642.8 L247.6 643.6 L248.2 644.4 L248.9 645.1 L249.5 645.9 L250.1 646.7 L250.8 647.4 L251.4 648.2 L252.1 649.0 L252.7 649.7 L253.4 650.5 L254.0 651.3 L254.7 652.0 L255.3 652.8 L256.0 653.5 L256.6 654.3 L257.3 655.0 L258.0 655.8 L258.6 656.5 L259.3 657.3 L259.9 658.0 L260.6 658.8 L261.3 659.5 L261.9 660.3 L262.6 661.0 L263.2 661.8 L263.9 662.5 L264.6 663.3 L265.2 664.0 L265.9 664.8 L266.6 665.5 L267.2 666.3 L267.9 667.0 L268.6 667.7 L269.3 668.5 L269.9 669.2 L270.6 670.0 L271.3 670.7 L271.9 671.4 L272.6 672.2 L273.3 672.9 L274.0 673.7 L274.6 674.4 L275.3 675.1 L276.0 675.9 L276.7 676.6 L277.3 677.3 L278.0 678.1 L278.7 678.8 L279.4 679.5 L280.1 680.3 L280.7 681.0 L281.4 681.7 L282.1 682.5 L282.8 683.2 L283.5 683.9 L284.2 684.7 L284.9 685.4 L285.5 686.1 L286.2 686.8 L286.9 687.6 L287.6 688.3 L288.3 689.0 L289.0 689.7 L289.7 690.4 L290.4 691.2 L291.1 691.9 L291.8 692.6 L292.5 693.3 L293.2 694.0 L293.9 694.8 L294.6 695.5 L295.3 696.2 L296.0 696.9 L296.7 697.6 L297.4 698.3 L298.1 699.0 L298.8 699.8 L299.5 700.5 L300.2 701.2 L300.9 701.9 L301.6 702.6 L302.3 703.3 L303.0 704.0 L303.7 704.7 L304.4 705.4 L305.1 706.1 L305.9 706.8 L306.6 707.5 L307.3 708.2 L308.0 708.9 L308.7 709.6 L309.4 710.3 L310.2 711.0 L310.9 711.7 L311.6 712.4 L312.3 713.1 L313.0 713.8 L313.8 714.4 L314.5 715.1 L315.2 715.8 L315.9 716.5 L316.7 717.2 L317.4 717.9 L318.1 718.6 L318.9 719.2 L319.6 719.9 L320.3 720.6 L321.1 721.3 L321.8 722.0 L322.5 722.6 L323.3 723.3 L324.0 724.0 L324.7 724.7 L325.5 725.3 L326.2 726.0 L327.0 726.7 L327.7 727.4 L328.4 728.0 L329.2 728.7 L329.9 729.4 L330.7 730.0 L331.4 730.7 L332.2 731.4 L332.9 732.0 L333.7 732.7 L334.4 733.3 L335.2 734.0 L335.9 734.7 L336.7 735.3 L337.4 736.0 L338.2 736.6 L339.0 737.3 L339.7 737.9 L340.5 738.6 L341.2 739.2 L342.0 739.9 L342.8 740.5 L343.5 741.2 L344.3 741.8 L345.0 742.5 L345.8 743.1 L346.6 743.8 L347.3 744.4 L348.1 745.0 L348.9 745.7 L349.7 746.3 L350.4 746.9 L351.2 747.6 L352.0 748.2 L352.7 748.8 L353.5 749.5 L354.3 750.1 L355.1 750.7 L355.8 751.4 L356.6 752.0 L357.4 752.6 L358.2 753.2 L359.0 753.9 L359.8 754.5 L360.5 755.1 L361.3 755.7 L362.1 756.4 L362.9 757.0 L363.7 757.6 L364.5 758.2 L365.3 758.8 L366.0 759.4 L366.8 760.0 L367.6 760.7 L368.4 761.3 L369.2 761.9 L370.0 762.5 L370.8 763.1 L371.6 763.7 L372.4 764.3 L373.2 764.9 L374.0 765.5 L374.8 766.1 L375.6 766.7 L376.4 767.3 L377.2 767.9 L378.0 768.5 L378.8 769.1 L379.6 769.7 L380.4 770.3 L381.2 770.9 L382.0 771.5 L382.8 772.1 L383.6 772.6 L384.4 773.2 L385.3 773.8 L386.1 774.4 L386.9 775.0 L387.7 775.6 L388.5 776.2 L389.3 776.7 L390.1 777.3 L391.0 777.9 L391.8 778.5 L392.6 779.0 L393.4 779.6 L394.2 780.2 L395.0 780.8 L395.9 781.3 L396.7 781.9 L397.5 782.5 L398.3 783.0 L399.2 783.6 L400.0 784.2 L400.8 784.7 L401.6 785.3 L402.5 785.9 L403.3 786.4 L404.1 787.0 L404.9 787.5 L405.8 788.1 L406.6 788.7 L407.4 789.2 L408.3 789.8 L409.1 790.3 L409.9 790.9 L410.8 791.4 L411.6 792.0 L412.4 792.5 L413.3 793.1 L414.1 793.6 L415.0 794.2 L415.8 794.7 L416.6 795.2 L417.5 795.8 L418.3 796.3 L419.2 796.9 L420.0 797.4 L420.8 797.9 L421.7 798.5 L422.5 799.0 L423.4 799.5 L424.2 800.1 L425.1 800.6 L425.9 801.1 L426.8 801.7 L427.6 802.2 L428.5 802.7 L429.3 803.2 L430.2 803.8 L431.0 804.3 L431.9 804.8 L432.7 805.3 L433.6 805.9 L434.4 806.4 L435.3 806.9 L436.1 807.4 L437.0 807.9 L437.9 808.4 L438.7 809.0 L439.6 809.5 L440.4 810.0 L441.3 810.5 L442.2 811.0 L443.0 811.5 L443.9 812.0 L444.7 812.5 L445.6 813.0 L446.5 813.5 L447.3 814.0 L448.2 814.5 L449.1 815.0 L449.9 815.5 L450.8 816.0 L451.7 816.5 L452.5 817.0 L453.4 817.5 L454.3 818.0 L455.1 818.5 L456.0 819.0 L456.9 819.5 L457.8 820.0 L458.6 820.5 L459.5 821.0 L460.4 821.5 L461.2 821.9 L462.1 822.4 L463.0 822.9 L463.9 823.4 L464.7 823.9 L465.6 824.4 L466.5 824.8 L467.4 825.3 L468.3 825.8 L469.1 826.3 L470.0 826.8 L470.9 827.2 L471.8 827.7 L472.7 828.2 L473.5 828.6 L474.4 829.1 L475.3 829.6 L476.2 830.1 L477.1 830.5 L478.0 831.0 L478.8 831.5 L479.7 831.9 L480.6 832.4 L481.5 832.9 L482.4 833.3 L483.3 833.8 L484.2 834.2 L485.0 834.7 L485.9 835.1 L486.8 835.6 L487.7 836.1 L488.6 836.5 L489.5 837.0 L490.4 837.4 L491.3 837.9 L492.2 838.3 L493.1 838.8 L494.0 839.2 L494.9 839.7 L495.7 840.1 L496.6 840.6 L497.5 841.0 L498.4 841.5 L499.3 841.9 L500.2 842.3 L501.1 842.8 L502.0 843.2 L502.9 843.7 L503.8 844.1 L504.7 844.5 L505.6 845.0 L506.5 845.4 L507.4 845.8 L508.3 846.3 L509.2 846.7 L510.1 847.1 L511.0 847.6 L511.9 848.0 L512.8 848.4 L513.7 848.9 L514.6 849.3 L515.5 849.7 L516.5 850.1 L517.4 850.6 L518.3 851.0 L519.2 851.4 L520.1 851.8 L521.0 852.2 L521.9 852.7 L522.8 853.1 L523.7 853.5 L524.6 853.9 L525.5 854.3 L526.4 854.8 L527.3 855.2 L528.3 855.6 L529.2 856.0 L530.1 856.4 L531.0 856.8 L531.9 857.2 L532.8 857.6 L533.7 858.0 L534.6 858.4 L535.6 858.9 L536.5 859.3 L537.4 859.7 L538.3 860.1 L539.2 860.5 L540.1 860.9 L541.0 861.3 L542.0 861.7 L542.9 862.1 L543.8 862.5 L544.7 862.9 L545.6 863.3 L546.6 863.7 L547.5 864.1 L548.4 864.4 L549.3 864.8 L550.2 865.2 L551.1 865.6 L552.1 866.0 L553.0 866.4 L553.9 866.8 L554.8 867.2 L555.8 867.6 L556.7 868.0 L557.6 868.3 L558.5 868.7 L559.4 869.1 L560.4 869.5 L561.3 869.9 L562.2 870.3 L563.1 870.6 L564.1 871.0 L565.0 871.4 L565.9 871.8 L566.8 872.1 L567.8 872.5 L568.7 872.9 L569.6 873.3 L570.6 873.6 L571.5 874.0 L572.4 874.4 L573.3 874.8 L574.3 875.1 L575.2 875.5 L576.1 875.9 L577.1 876.2 L578.0 876.6 L578.9 877.0 L579.8 877.3 L580.8 877.7 L581.7 878.1 L582.6 878.4 L583.6 878.8 L584.5 879.2 L585.4 879.5 L586.4 879.9 L587.3 880.2 L588.2 880.6 L589.2 881.0 L590.1 881.3 L591.0 881.7 L592.0 882.0 L592.9 882.4 L593.8 882.7 L594.8 883.1 L595.7 883.4 L596.7 883.8 L597.6 884.1 L598.5 884.5 L599.5 884.8 L600.4 885.2 L601.3 885.5 L602.3 885.9 L603.2 886.2 L604.2 886.6 L605.1 886.9 L606.0 887.3 L607.0 887.6 L607.9 888.0 L608.8 888.3 L609.8 888.6 L610.7 889.0 L611.7 889.3 L612.6 889.7 L613.6 890.0 L614.5 890.3 L615.4 890.7 L616.4 891.0 L617.3 891.3 L618.3 891.7 L619.2 892.0 L620.1 892.3 L621.1 892.7 L622.0 893.0 L623.0 893.3 L623.9 893.7 L624.9 894.0 L625.8 894.3 L626.8 894.7 L627.7 895.0 L628.6 895.3 L629.6 895.6 L630.5 896.0 L631.5 896.3 L632.4 896.6 L633.4 896.9 L634.3 897.3 L635.3 897.6 L636.2 897.9 L637.2 898.2 L638.1 898.5 L639.1 898.9 L640.0 899.2 L640.9 899.5 L641.9 899.8 L642.8 900.1 L643.8 900.4 L644.7 900.8 L645.7 901.1 L646.6 901.4 L647.6 901.7 L648.5 902.0 L649.5 902.3 L650.4 902.6 L651.4 903.0 L652.3 903.3 L653.3 903.6 L654.2 903.9 L655.2 904.2 L656.1 904.5 L657.1 904.8 L658.1 905.1 L659.0 905.4 L660.0 905.7 L660.9 906.0 L661.9 906.3 L662.8 906.6 L663.8 906.9 L664.7 907.2 L665.7 907.5 L666.6 907.8 L667.6 908.1 L668.5 908.4 L669.5 908.7 L670.4 909.0 L671.4 909.3 L672.4 909.6 L673.3 909.9 L674.3 910.2 L675.2 910.5 L676.2 910.8 L677.1 911.1 L678.1 911.4 L679.0 911.7 L680.0 912.0 L681.0 912.3 L681.9 912.6 L682.9 912.8 L683.8 913.1 L684.8 913.4 L685.7 913.7 L686.7 914.0 L687.7 914.3 L688.6 914.6 L689.6 914.9 L690.5 915.1 L691.5 915.4 L692.5 915.7 L693.4 916.0 L694.4 916.3 L695.3 916.6 L696.3 916.8 L697.2 917.1 L698.2 917.4 L699.2 917.7 L700.1 918.0 L701.1 918.2 L702.1 918.5 L703.0 918.8 L704.0 919.1 L704.9 919.4 L705.9 919.6 L706.9 919.9 L707.8 920.2 L708.8 920.5 L709.7 920.7 L710.7 921.0 L711.7 921.3 L712.6 921.5 L713.6 921.8 L714.6 922.1 L715.5 922.4 L716.5 922.6 L717.4 922.9 L718.4 923.2 L719.4 923.4 L720.3 923.7 L721.3 924.0 L722.3 924.2 L723.2 924.5 L724.2 924.8 L725.2 925.0 L726.1 925.3 L727.1 925.6 L728.0 925.8 L729.0 926.1 L730.0 926.3 L730.9 926.6 L731.9 926.9 L732.9 927.1 L733.8 927.4 L734.8 927.6 L735.8 927.9 L736.7 928.2 L737.7 928.4 L738.7 928.7 L739.6 928.9 L740.6 929.2 L741.6 929.4 L742.5 929.7 L743.5 930.0 L744.5 930.2 L745.4 930.5 L746.4 930.7 L747.4 931.0 L748.3 931.2 L749.3 931.5 L750.3 931.7 L751.2 932.0 L752.2 932.2 L753.2 932.5 L754.1 932.7 L755.1 933.0 L756.1 933.2 L757.1 933.5 L758.0 933.7 L759.0 934.0 L760.0 934.2 L760.9 934.5 L761.9 934.7 L762.9 934.9 L763.8 935.2 L764.8 935.4 L765.8 935.7 L766.7 935.9 L767.7 936.2 L768.7 936.4 L769.7 936.6 L770.6 936.9 L771.6 937.1 L772.6 937.4 L773.5 937.6 L774.5 937.8 L775.5 938.1 L776.5 938.3 L777.4 938.6 L778.4 938.8 L779.4 939.0 L780.3 939.3 L781.3 939.5 L782.3 939.7 L783.3 940.0 L784.2 940.2 L785.2 940.4 L786.2 940.7 L787.1 940.9 L788.1 941.1 L789.1 941.4 L790.1 941.6 L791.0 941.8 L792.0 942.1 L793.0 942.3 L794.0 942.5 L794.9 942.8 L795.9 943.0 L796.9 943.2 L797.9 943.4 L798.8 943.7 L799.8 943.9 L800.8 944.1 L801.7 944.3 L802.7 944.6 L803.7 944.8 L804.7 945.0 L805.6 945.2 L806.6 945.5 L807.6 945.7 L808.6 945.9 L809.5 946.1 L810.5 946.4 L811.5 946.6 L812.5 946.8 L813.4 947.0 L814.4 947.2 L815.4 947.5 L816.4 947.7 L817.3 947.9 L818.3 948.1 L819.3 948.3 L820.3 948.6 L821.3 948.8 L822.2 949.0 L823.2 949.2 L824.2 949.4 L825.2 949.6 L826.1 949.9 L827.1 950.1 L828.1 950.3 L829.1 950.5 L830.0 950.7 L831.0 950.9 L832.0 951.1 L833.0 951.4 L833.9 951.6 L834.9 951.8 L835.9 952.0 L836.9 952.2 L837.9 952.4 L838.8 952.6 L839.8 952.8 L840.8 953.0 L841.8 953.3 L842.7 953.5 L843.7 953.7 L844.7 953.9 L845.7 954.1 L846.7 954.3 L847.6 954.5 L848.6 954.7 L849.6 954.9 L850.6 955.1 L851.6 955.3 L852.5 955.5 L853.5 955.7 L854.5 955.9 L855.5 956.1 L856.4 956.3 L857.4 956.5 L858.4 956.7 L859.4 956.9 L860.4 957.1 L861.3 957.3 L862.3 957.5 L863.3 957.7 L864.3 957.9 L865.3 958.1 L866.2 958.3 L867.2 958.5 L868.2 958.7 L869.2 958.9 L870.2 959.1 L871.1 959.3 L872.1 959.5 L873.1 959.7 L874.1 959.9 L875.1 960.1 L876.0 960.3 L877.0 960.5 L878.0 960.7 L879.0 960.9 L880.0 961.1 L881.0 961.3 L881.9 961.5 L882.9 961.7 L883.9 961.9 L884.9 962.1 L885.9 962.3 L886.8 962.4 L887.8 962.6 L888.8 962.8 L889.8 963.0 L890.8 963.2 L891.7 963.4 L892.7 963.6 L893.7 963.8 L894.7 964.0 L895.7 964.2 L896.7 964.3 L897.6 964.5 L898.6 964.7 L899.6 964.9 L900.6 965.1 L901.6 965.3 L902.6 965.5 L903.5 965.6 L904.5 965.8 L905.5 966.0 L906.5 966.2 L907.5 966.4 L908.4 966.6 L909.4 966.8 L910.4 966.9 L911.4 967.1 L912.4 967.3 L913.4 967.5 L914.3 967.7 L915.3 967.9 L916.3 968.0 L917.3 968.2 L918.3 968.4 L919.3 968.6 L920.2 968.8 L921.2 968.9 L922.2 969.1 L923.2 969.3 L924.2 969.5 L925.2 969.6 L926.2 969.8 L927.1 970.0 L928.1 970.2 L929.1 970.4 L930.1 970.5 L931.1 970.7 L932.1 970.9 L933.0 971.1 L934.0 971.2 L935.0 971.4 L936.0 971.6 L937.0 971.8 L938.0 971.9 L938.9 972.1 L939.9 972.3 L940.9 972.5 L941.9 972.6 L942.9 972.8 L943.9 973.0 L944.9 973.1 L945.8 973.3 L946.8 973.5 L947.8 973.7 L948.8 973.8 L949.8 974.0 L950.8 974.2 L951.8 974.3 L952.7 974.5 L953.7 974.7 L954.7 974.9 L955.7 975.0 L956.7 975.2 L957.7 975.4 L958.7 975.5 L959.6 975.7 L960.6 975.9 L961.6 976.0 L962.6 976.2 L963.6 976.4 L964.6 976.5 L965.6 976.7 L966.5 976.9 L967.5 977.0 L968.5 977.2 L969.5 977.4 L970.5 977.5 L971.5 977.7 L972.5 977.8 L973.4 978.0 L974.4 978.2 L975.4 978.3 L976.4 978.5 L977.4 978.7 L978.4 978.8 L979.4 979.0 L980.4 979.1 L981.3 979.3 L982.3 979.5 L983.3 979.6 L984.3 979.8 L985.3 979.9 L986.3 980.1 L987.3 980.3 L988.3 980.4 L989.2 980.6 L990.2 980.7 L991.2 980.9 L992.2 981.1 L993.2 981.2 L994.2 981.4 L995.2 981.5 L996.2 981.7 L997.1 981.8 L998.1 982.0 L999.1 982.2 L1000.1 982.3 L1001.1 982.5 L1002.1 982.6 L1003.1 982.8 L1004.1 982.9 L1005.0 983.1 L1006.0 983.2 L1007.0 983.4 L1008.0 983.5 L1009.0 983.7 L1010.0 983.9 L1011.0 984.0 L1012.0 984.2 L1012.9 984.3 L1013.9 984.5 L1014.9 984.6 L1015.9 984.8 L1016.9 984.9 L1017.9 985.1 L1018.9 985.2 L1019.9 985.4 L1020.9 985.5 L1021.8 985.7 L1022.8 985.8 L1023.8 986.0 L1024.8 986.1 L1025.8 986.3 L1026.8 986.4 L1027.8 986.6 L1028.8 986.7 L1029.8 986.9 L1030.7 987.0 L1031.7 987.2 L1032.7 987.3 L1033.7 987.5 L1034.7 987.6 L1035.7 987.7 L1036.7 987.9 L1037.7 988.0 L1038.7 988.2 L1039.6 988.3 L1040.6 988.5 L1041.6 988.6 L1042.6 988.8 L1043.6 988.9 L1044.6 989.1 L1045.6 989.2 L1046.6 989.3 L1047.6 989.5 L1048.6 989.6 L1049.5 989.8 L1050.5 989.9 L1051.5 990.1 L1052.5 990.2 L1053.5 990.3 L1054.5 990.5 L1055.5 990.6 L1056.5 990.8 L1057.5 990.9 L1058.5 991.0 L1059.4 991.2 L1060.4 991.3 L1061.4 991.5 L1062.4 991.6 L1063.4 991.8 L1064.4 991.9 L1065.4 992.0 L1066.4 992.2 L1067.4 992.3 L1068.4 992.4 L1069.3 992.6 L1070.3 992.7 L1071.3 992.9 L1072.3 993.0 L1073.3 993.1 L1074.3 993.3 L1075.3 993.4 L1076.3 993.5 L1077.3 993.7 L1078.3 993.8 L1079.3 994.0 L1080.2 994.1 L1081.2 994.2 L1082.2 994.4 L1083.2 994.5 L1084.2 994.6 L1085.2 994.8 L1086.2 994.9 L1087.2 995.0 L1088.2 995.2 L1089.2 995.3 L1090.2 995.4 L1091.1 995.6 L1092.1 995.7 L1093.1 995.8 L1094.1 996.0 L1095.1 996.1 L1096.1 996.2 L1097.1 996.4 L1098.1 996.5 L1099.1 996.6 L1100.1 996.8 L1101.1 996.9 L1102.0 997.0 L1103.0 997.2 L1104.0 997.3 L1105.0 997.4 L1106.0 997.5 L1107.0 997.7 L1108.0 997.8 L1109.0 997.9 L1110.0 998.1 L1111.0 998.2 L1112.0 998.3 L1113.0 998.5 L1113.9 998.6 L1114.9 998.7 L1115.9 998.8 L1116.9 999.0 L1117.9 999.1 L1118.9 999.2 L1119.9 999.3 L1120.9 999.5 L1121.9 999.6 L1122.9 999.7 L1123.9 999.9 L1124.9 1000.0 L1125.8 1000.1 L1126.8 1000.2 L1127.8 1000.4 L1128.8 1000.5 L1129.8 1000.6 L1130.8 1000.7 L1131.8 1000.9 L1132.8 1001.0 L1133.8 1001.1 L1134.8 1001.2 L1135.8 1001.4 L1136.8 1001.5 L1137.8 1001.6 L1138.7 1001.7 L1139.7 1001.8 L1140.7 1002.0 L1141.7 1002.1 L1142.7 1002.2 L1143.7 1002.3 L1144.7 1002.5 L1145.7 1002.6 L1146.7 1002.7 L1147.7 1002.8 L1148.7 1002.9 L1149.7 1003.1 L1150.7 1003.2 L1151.6 1003.3 L1152.6 1003.4 L1153.6 1003.6 L1154.6 1003.7 L1155.6 1003.8 L1156.6 1003.9 L1157.6 1004.0 L1158.6 1004.2 L1159.6 1004.3 L1160.6 1004.4 L1161.6 1004.5 L1162.6 1004.6 L1163.6 1004.7 L1164.6 1004.9 L1165.5 1005.0 L1166.5 1005.1 L1167.5 1005.2 L1168.5 1005.3 L1169.5 1005.5 L1170.5 1005.6 L1171.5 1005.7 L1172.5 1005.8 L1173.5 1005.9 L1174.5 1006.0 L1175.5 1006.2 L1176.5 1006.3 L1177.5 1006.4 L1178.5 1006.5 L1179.5 1006.6 L1180.4 1006.7 L1181.4 1006.9 L1182.4 1007.0 L1183.4 1007.1 L1184.4 1007.2 L1185.4 1007.3 L1186.4 1007.4 L1187.4 1007.5 L1188.4 1007.7 L1189.4 1007.8 L1190.4 1007.9 L1191.4 1008.0 L1192.4 1008.1 L1193.4 1008.2 L1194.4 1008.3 L1195.3 1008.4 L1196.3 1008.6 L1197.3 1008.7 L1198.3 1008.8 L1199.3 1008.9 L1200.3 1009.0 L1201.3 1009.1 L1202.3 1009.2 L1203.3 1009.3 L1204.3 1009.5 L1205.3 1009.6 L1206.3 1009.7 L1207.3 1009.8 L1208.3 1009.9 L1209.3 1010.0 L1210.3 1010.1 L1211.2 1010.2 L1212.2 1010.3 L1213.2 1010.4 L1214.2 1010.6 L1215.2 1010.7 L1216.2 1010.8 L1217.2 1010.9 L1218.2 1011.0 L1219.2 1011.1 L1220.2 1011.2 L1221.2 1011.3 L1222.2 1011.4 L1223.2 1011.5 L1224.2 1011.6 L1225.2 1011.7 L1226.2 1011.9 L1227.2 1012.0 L1228.1 1012.1 L1229.1 1012.2 L1230.1 1012.3 L1231.1 1012.4 L1232.1 1012.5 L1233.1 1012.6 L1234.1 1012.7 L1235.1 1012.8 L1236.1 1012.9 L1237.1 1013.0 L1238.1 1013.1 L1239.1 1013.2 L1240.1 1013.3 L1241.1 1013.5 L1242.1 1013.6 L1243.1 1013.7 L1244.1 1013.8 L1245.1 1013.9 L1246.0 1014.0 L1247.0 1014.1 L1248.0 1014.2 L1249.0 1014.3 L1250.0 1014.4 L1251.0 1014.5 L1252.0 1014.6 L1253.0 1014.7 L1254.0 1014.8 L1255.0 1014.9 L1256.0 1015.0 L1257.0 1015.1 L1258.0 1015.2 L1259.0 1015.3 L1260.0 1015.4 L1261.0 1015.5 L1262.0 1015.6 L1263.0 1015.7 L1264.0 1015.8 L1264.9 1015.9 L1265.9 1016.0 L1266.9 1016.1 L1267.9 1016.2 L1268.9 1016.3 L1269.9 1016.4 L1270.9 1016.5 L1271.9 1016.6 L1272.9 1016.7 L1273.9 1016.8 L1274.9 1016.9 L1275.9 1017.0 L1276.9 1017.1 L1277.9 1017.2 L1278.9 1017.3 L1279.9 1017.4 L1280.9 1017.5 L1281.9 1017.6 L1282.9 1017.7 L1283.9 1017.8 L1284.8 1017.9 L1285.8 1018.0 L1286.8 1018.1 L1287.8 1018.2 L1288.8 1018.3 L1289.8 1018.4 L1290.8 1018.5 L1291.8 1018.6 L1292.8 1018.7 L1293.8 1018.8 L1294.8 1018.9 L1295.8 1019.0 L1296.8 1019.1 L1297.8 1019.2 L1298.8 1019.3 L1299.8 1019.4 L1300.8 1019.5 L1301.8 1019.6 L1302.8 1019.7 L1303.8 1019.8 L1304.8 1019.9 L1305.7 1020.0 L1306.7 1020.1 L1307.7 1020.1 L1308.7 1020.2 L1309.7 1020.3 L1310.7 1020.4 L1311.7 1020.5 L1312.7 1020.6 L1313.7 1020.7 L1314.7 1020.8 L1315.7 1020.9 L1316.7 1021.0 L1317.7 1021.1 L1318.7 1021.2 L1319.7 1021.3 L1320.7 1021.4 L1321.7 1021.5 L1322.7 1021.6 L1323.7 1021.7 L1324.7 1021.7 L1325.7 1021.8 L1326.7 1021.9 L1327.7 1022.0 L1328.6 1022.1 L1329.6 1022.2 L1330.6 1022.3 L1331.6 1022.4 L1332.6 1022.5 L1333.6 1022.6 L1334.6 1022.7 L1335.6 1022.8 L1336.6 1022.8 L1337.6 1022.9 L1338.6 1023.0 L1339.6 1023.1 L1340.6 1023.2 L1341.6 1023.3 L1342.6 1023.4 L1343.6 1023.5 L1344.6 1023.6 L1345.6 1023.7 L1346.6 1023.8 L1347.6 1023.8 L1348.6 1023.9 L1349.6 1024.0 L1350.6 1024.1 L1351.6 1024.2 L1352.5 1024.3 L1353.5 1024.4 L1354.5 1024.5 L1355.5 1024.6 L1356.5 1024.6 L1357.5 1024.7 L1358.5 1024.8 L1359.5 1024.9 L1360.5 1025.0 L1361.5 1025.1 L1362.5 1025.2 L1363.5 1025.3 L1364.5 1025.3 L1365.5 1025.4 L1366.5 1025.5 L1367.5 1025.6 L1368.5 1025.7 L1369.5 1025.8 L1370.5 1025.9 L1371.5 1026.0 L1372.5 1026.0 L1373.5 1026.1 L1374.5 1026.2 L1375.5 1026.3 L1376.5 1026.4 L1377.5 1026.5 L1378.4 1026.6 L1379.4 1026.6 L1380.4 1026.7 L1381.4 1026.8 L1382.4 1026.9 L1383.4 1027.0 L1384.4 1027.1 L1385.4 1027.2 L1386.4 1027.2 L1387.4 1027.3 L1388.4 1027.4 L1389.4 1027.5 L1390.4 1027.6 L1391.4 1027.7 L1392.4 1027.8 L1393.4 1027.8 L1394.4 1027.9 L1395.4 1028.0 L1396.4 1028.1 L1397.4 1028.2 L1398.4 1028.3 L1399.4 1028.3 L1400.4 1028.4 L1401.4 1028.5 L1402.4 1028.6 L1403.4 1028.7 L1404.4 1028.8 L1405.4 1028.8 L1406.3 1028.9 L1407.3 1029.0 L1408.3 1029.1 L1409.3 1029.2 L1410.3 1029.2 L1411.3 1029.3 L1412.3 1029.4 L1413.3 1029.5 L1414.3 1029.6 L1415.3 1029.7 L1416.3 1029.7 L1417.3 1029.8 L1418.3 1029.9 L1419.3 1030.0 L1420.3 1030.1 L1421.3 1030.1 L1422.3 1030.2 L1423.3 1030.3 L1424.3 1030.4 L1425.3 1030.5 L1426.3 1030.5 L1427.3 1030.6 L1428.3 1030.7 L1429.3 1030.8 L1430.3 1030.9 L1431.3 1030.9 L1432.3 1031.0 L1433.3 1031.1 L1434.3 1031.2 L1435.3 1031.3 L1436.3 1031.3 L1437.2 1031.4 L1438.2 1031.5 L1439.2 1031.6 L1440.2 1031.7 L1441.2 1031.7 L1442.2 1031.8 L1443.2 1031.9 L1444.2 1032.0 L1445.2 1032.1 L1446.2 1032.1 L1447.2 1032.2 L1448.2 1032.3 L1449.2 1032.4 L1450.2 1032.4 L1451.2 1032.5 L1452.2 1032.6 L1453.2 1032.7 L1454.2 1032.8 L1455.2 1032.8 L1456.2 1032.9 L1457.2 1033.0 L1458.2 1033.1 L1459.2 1033.1 L1460.2 1033.2 L1461.2 1033.3 L1462.2 1033.4 L1463.2 1033.4 L1464.2 1033.5 L1465.2 1033.6 L1466.2 1033.7 L1467.2 1033.7 L1468.2 1033.8 L1469.2 1033.9 L1470.1 1034.0 L1471.1 1034.1 L1472.1 1034.1 L1473.1 1034.2 L1474.1 1034.3 L1475.1 1034.4 L1476.1 1034.4 L1477.1 1034.5 L1478.1 1034.6 L1479.1 1034.7 L1480.1 1034.7 L1481.1 1034.8 L1482.1 1034.9 L1483.1 1034.9 L1484.1 1035.0 L1485.1 1035.1 L1486.1 1035.2 L1487.1 1035.2 L1488.1 1035.3 L1489.1 1035.4 L1490.1 1035.5 L1491.1 1035.5 L1492.1 1035.6 L1493.1 1035.7 L1494.1 1035.8 L1495.1 1035.8 L1496.1 1035.9 L1497.1 1036.0 L1498.1 1036.1 L1499.1 1036.1 L1500.1 1036.2 L1501.1 1036.3 L1502.1 1036.3 L1503.1 1036.4 L1504.1 1036.5 L1505.1 1036.6 L1506.0 1036.6 L1507.0 1036.7 L1508.0 1036.8 L1509.0 1036.8 L1510.0 1036.9 L1511.0 1037.0 L1512.0 1037.1 L1513.0 1037.1 L1514.0 1037.2 L1515.0 1037.3 L1516.0 1037.3 L1517.0 1037.4 L1518.0 1037.5 L1519.0 1037.6 L1520.0 1037.6 L1521.0 1037.7 L1522.0 1037.8 L1523.0 1037.8 L1524.0 1037.9 L1525.0 1038.0 L1526.0 1038.1 L1527.0 1038.1 L1528.0 1038.2 L1529.0 1038.3 L1530.0 1038.3 L1531.0 1038.4 L1532.0 1038.5 L1533.0 1038.5 L1534.0 1038.6 L1535.0 1038.7 L1536.0 1038.8 L1537.0 1038.8 L1538.0 1038.9 L1539.0 1039.0 L1540.0 1039.0 L1541.0 1039.1 L1542.0 1039.2 L1543.0 1039.2 L1544.0 1039.3 L1545.0 1039.4 L1546.0 1039.4 L1546.9 1039.5 L1547.9 1039.6 L1548.9 1039.6 L1549.9 1039.7 L1550.9 1039.8 L1551.9 1039.8 L1552.9 1039.9 L1553.9 1040.0 L1554.9 1040.1 L1555.9 1040.1 L1556.9 1040.2 L1557.9 1040.3 L1558.9 1040.3 L1559.9 1040.4 L1560.9 1040.5 L1561.9 1040.5 L1562.9 1040.6 L1563.9 1040.7 L1564.9 1040.7 L1565.9 1040.8 L1566.9 1040.9 L1567.9 1040.9 L1568.9 1041.0 L1569.9 1041.1 L1570.9 1041.1 L1571.9 1041.2 L1572.9 1041.3 L1573.9 1041.3 L1574.9 1041.4 L1575.9 1041.5 L1576.9 1041.5 L1577.9 1041.6 L1578.9 1041.6 L1579.9 1041.7 L1580.9 1041.8 L1581.9 1041.8 L1582.9 1041.9 L1583.9 1042.0 L1584.9 1042.0 L1585.9 1042.1 L1586.9 1042.2 L1587.9 1042.2 L1588.9 1042.3 L1589.9 1042.4 L1590.9 1042.4 L1591.8 1042.5 L1592.8 1042.6 L1593.8 1042.6 L1594.8 1042.7 L1595.8 1042.7 L1596.8 1042.8 L1597.8 1042.9 L1598.8 1042.9 L1599.8 1043.0 L1600.8 1043.1 L1601.8 1043.1 L1602.8 1043.2 L1603.8 1043.3 L1604.8 1043.3 L1605.8 1043.4 L1606.8 1043.4 L1607.8 1043.5 L1608.8 1043.6 L1609.8 1043.6 L1610.8 1043.7 L1611.8 1043.8 L1612.8 1043.8 L1613.8 1043.9 L1614.8 1044.0 L1615.8 1044.0 L1616.8 1044.1 L1617.8 1044.1 L1618.8 1044.2 L1619.8 1044.3 L1620.8 1044.3 L1621.8 1044.4 L1622.8 1044.4 L1623.8 1044.5 L1624.8 1044.6 L1625.8 1044.6 L1626.8 1044.7 L1627.8 1044.8 L1628.8 1044.8 L1629.8 1044.9 L1630.8 1044.9 L1631.8 1045.0 L1632.8 1045.1 L1633.8 1045.1 L1634.8 1045.2 L1635.8 1045.2 L1636.8 1045.3 L1637.8 1045.4 L1638.8 1045.4 L1639.8 1045.5 L1640.8 1045.6 L1641.8 1045.6 L1642.8 1045.7 L1643.7 1045.7 L1644.7 1045.8 L1645.7 1045.9 L1646.7 1045.9 L1647.7 1046.0 L1648.7 1046.0 L1649.7 1046.1 L1650.7 1046.2 L1651.7 1046.2 L1652.7 1046.3 L1653.7 1046.3 L1654.7 1046.4 L1655.7 1046.5 L1656.7 1046.5 L1657.7 1046.5 L1658.7 1046.5 L1659.7 1046.5 L1660.7 1046.6 L1661.7 1046.6 L1662.7 1046.6 L1663.8 1046.6 L1664.8 1046.7 L1665.8 1046.7 L1666.8 1046.8 L1667.8 1046.8 L1668.8 1046.9 L1669.8 1046.9 L1670.7 1047.0 L1671.7 1047.1 L1672.7 1047.1 L1673.7 1047.2 L1674.7 1047.3 L1675.7 1047.4 L1676.7 1047.4 L1677.7 1047.5 L1678.7 1047.6 L1679.7 1047.7 L1680.7 1047.8 L1681.7 1047.9 L1682.7 1048.0 L1683.7 1048.0 L1684.7 1048.1 L1685.7 1048.2 L1686.7 1048.3 L1687.7 1048.5 L1688.6 1048.6 L1689.6 1048.7 L1690.6 1048.9 L1691.6 1049.0 L1692.6 1049.2 L1693.6 1049.4 L1694.6 1049.6 L1695.6 1049.7 L1696.5 1049.9 L1697.5 1050.1 L1698.5 1050.3 L1699.5 1050.5 L1700.5 1050.7 L1701.5 1050.9 L1702.4 1051.1 L1703.4 1051.3 L1704.4 1051.5 L1705.4 1051.7 L1706.3 1052.0 L1707.3 1052.2 L1708.3 1052.4 L1709.3 1052.7 L1710.2 1052.9 L1711.2 1053.2 L1712.1 1053.4 L1713.1 1053.7 L1714.1 1054.0 L1714.4 1054.1" stroke="#daa520" stroke-width="6.15" stroke-linecap="square"/>
<path d="M235.6 357.6 L235.6 357.6 L235.7 359.7 L235.7 359.8 L235.7 360.8 L235.8 361.4 L235.8 361.4 L235.8 362.8 L235.9 364.4 L236.0 365.7 L236.0 365.1 L236.0 365.7 L236.1 368.2 L236.1 367.3 L236.3 370.2 L236.2 369.6 L236.3 369.7 L236.4 371.8 L236.5 373.1 L236.4 371.7 L236.6 374.6 L236.5 374.1 L236.7 376.2 L236.6 375.7 L236.6 375.6 L236.8 377.9 L236.9 379.0 L237.0 380.6 L237.0 381.1 L237.0 381.2 L237.0 381.4 L237.1 382.0 L237.2 382.9 L237.2 383.3 L237.3 384.5 L237.2 383.7 L237.5 386.4 L237.5 387.1 L237.8 389.7 L237.7 389.2 L237.7 389.2 L237.8 390.7 L237.8 390.2 L237.9 391.5 L237.9 391.4 L238.2 394.5 L238.2 394.7 L238.2 394.3 L238.3 395.8 L238.5 397.3 L238.6 397.8 L238.6 398.5 L238.6 398.5 L238.7 399.4 L238.8 400.7 L239.0 402.1 L239.0 401.6 L239.1 402.2 L239.3 404.6 L239.3 404.0 L239.6 406.1 L239.6 406.4 L239.7 407.6 L239.9 409.0 L239.9 409.0 L240.1 409.9 L240.0 409.5 L240.1 410.5 L240.5 412.2 L240.6 413.6 L240.7 414.3 L241.0 415.7 L240.8 415.1 L240.9 415.8 L241.2 417.2 L241.2 417.3 L241.4 418.0 L241.3 418.1 L241.7 420.3 L241.6 419.7 L241.9 421.6 L241.8 421.0 L242.3 423.5 L242.2 422.9 L242.6 424.9 L242.4 424.1 L242.7 425.6 L243.1 427.5 L242.9 427.0 L243.3 428.3 L243.3 428.7 L243.3 428.3 L243.8 430.8 L243.9 431.7 L243.9 431.5 L244.3 433.4 L244.4 433.2 L244.4 433.9 L244.8 435.3 L244.9 435.6 L245.4 438.4 L245.0 436.6 L245.5 438.9 L245.8 439.9 L245.5 438.7 L245.7 439.6 L246.1 442.0 L246.2 442.2 L246.5 443.3 L246.8 444.3 L246.8 444.6 L246.9 445.1 L246.9 445.2 L247.4 447.1 L247.5 447.5 L247.8 448.7 L247.9 449.5 L248.0 449.6 L248.4 451.6 L248.5 452.1 L248.7 452.8 L248.7 452.8 L248.9 453.9 L249.1 454.6 L249.3 455.5 L249.4 456.0 L249.7 457.3 L249.9 458.0 L250.1 458.9 L250.2 459.3 L250.5 460.8 L250.6 461.1 L250.5 460.8 L250.8 462.4 L251.1 463.4 L251.4 464.6 L251.4 464.9 L251.7 465.6 L251.8 466.3 L252.1 467.6 L252.2 467.9 L252.3 468.6 L252.5 469.4 L252.8 470.6 L252.9 471.0 L252.9 471.4 L253.3 473.0 L253.4 473.3 L253.7 474.5 L253.8 475.2 L254.1 476.3 L254.2 477.1 L254.3 477.2 L254.5 478.2 L254.6 478.5 L255.0 480.4 L255.1 480.7 L255.4 481.9 L255.4 482.0 L255.4 482.1 L256.0 484.3 L255.9 484.5 L256.1 485.3 L256.3 486.0 L256.6 487.0 L256.7 487.8 L256.7 487.8 L257.2 489.5 L257.2 489.7 L257.4 490.5 L257.8 492.1 L257.8 492.6 L257.9 492.9 L258.0 493.1 L258.3 494.7 L258.5 495.6 L258.7 496.1 L258.7 496.5 L259.0 497.4 L259.1 498.0 L259.4 499.3 L259.6 500.4 L259.8 501.2 L259.9 501.3 L260.2 502.5 L260.4 503.4 L260.5 503.7 L260.7 504.7 L261.1 506.3 L261.1 506.3 L261.4 507.4 L261.4 507.7 L261.6 508.6 L261.7 508.7 L262.0 510.1 L262.3 511.4 L262.6 512.5 L262.6 513.0 L262.8 513.5 L262.9 514.1 L263.1 514.6 L263.3 515.5 L263.6 516.6 L263.6 516.9 L264.0 518.3 L264.0 518.3 L264.1 518.8 L264.4 519.9 L264.5 520.4 L264.8 521.3 L265.1 523.0 L265.3 523.3 L265.4 524.2 L265.8 525.3 L265.9 526.2 L265.9 526.3 L266.4 527.7 L266.4 528.2 L266.6 528.8 L266.9 529.7 L266.8 529.8 L267.1 530.8 L267.4 531.9 L267.7 532.9 L267.7 533.3 L268.0 534.2 L268.3 535.3 L268.6 536.3 L268.7 536.8 L268.9 537.8 L269.0 537.9 L269.2 538.7 L269.4 539.8 L269.6 540.3 L269.8 541.0 L270.2 542.6 L270.2 542.7 L270.3 543.1 L270.7 544.5 L271.1 545.7 L271.1 545.8 L271.4 547.1 L271.4 547.2 L271.7 547.9 L271.8 548.7 L272.1 549.6 L272.6 551.1 L272.4 550.8 L272.9 552.6 L272.9 552.4 L273.2 553.4 L273.5 554.6 L273.7 555.3 L273.9 555.9 L273.9 556.0 L274.3 557.5 L274.4 557.8 L275.0 559.9 L274.9 559.6 L275.2 560.5 L275.3 560.8 L275.6 561.8 L275.7 562.3 L276.2 563.9 L276.3 564.2 L276.6 565.3 L276.7 565.6 L277.0 566.4 L277.4 567.8 L277.4 567.8 L277.5 568.2 L277.9 569.8 L278.0 570.0 L278.3 571.0 L278.8 572.3 L278.7 572.4 L279.2 573.8 L279.3 574.0 L279.7 575.6 L280.0 576.2 L280.0 576.4 L280.3 577.2 L280.4 577.8 L280.8 578.9 L281.1 580.0 L281.1 579.8 L281.6 581.4 L281.6 581.4 L281.9 582.3 L282.1 582.7 L282.8 584.9 L282.8 584.9 L283.1 585.7 L283.2 586.2 L283.6 587.6 L283.6 587.2 L284.0 588.7 L284.5 590.3 L284.5 590.1 L284.8 591.0 L285.1 592.0 L285.2 592.2 L285.6 593.2 L286.0 594.3 L286.1 594.8 L286.4 595.6 L286.6 596.1 L287.0 597.1 L287.2 597.8 L287.7 599.0 L287.9 599.5 L288.0 599.9 L287.9 599.9 L288.6 601.8 L288.9 602.5 L288.9 602.7 L289.1 603.1 L289.5 604.1 L290.0 605.6 L290.0 605.7 L290.4 606.6 L290.8 607.6 L291.2 608.7 L291.3 609.0 L291.6 609.7 L291.8 610.3 L292.4 611.8 L292.6 612.4 L292.7 612.7 L292.8 613.0 L293.2 614.0 L293.7 615.2 L293.9 615.5 L294.3 616.8 L294.6 617.4 L294.9 618.1 L295.2 618.9 L295.4 619.7 L295.5 619.9 L296.0 620.8 L296.7 622.5 L296.4 622.0 L296.9 623.0 L297.3 624.3 L297.6 624.6 L297.8 625.1 L298.0 625.7 L298.5 627.0 L298.9 627.9 L299.3 628.8 L299.3 629.1 L299.9 630.1 L299.9 630.2 L300.4 631.3 L300.6 631.8 L301.0 632.8 L301.4 633.7 L301.8 634.6 L301.8 634.6 L302.4 636.1 L302.5 636.2 L302.8 636.8 L303.3 637.8 L303.4 638.1 L304.0 639.3 L304.3 640.1 L304.6 640.7 L305.0 641.7 L305.2 642.1 L305.6 642.9 L305.8 643.2 L306.3 644.4 L306.5 644.8 L307.0 645.7 L307.3 646.5 L307.7 647.3 L307.9 647.4 L308.1 648.2 L308.7 649.3 L309.2 650.3 L309.5 651.0 L309.9 651.9 L310.3 652.7 L310.5 653.2 L310.9 653.7 L311.1 654.1 L311.4 654.9 L311.9 655.7 L312.4 656.6 L312.8 657.3 L313.0 658.0 L313.3 658.7 L313.9 659.6 L314.2 660.2 L314.6 660.9 L315.0 661.6 L315.1 662.1 L315.5 662.6 L316.0 663.8 L316.5 664.5 L316.8 665.0 L317.0 665.7 L317.9 667.2 L317.8 667.0 L318.3 667.8 L318.8 668.6 L318.8 669.0 L319.5 670.0 L320.1 671.3 L320.5 671.6 L320.8 672.2 L321.1 673.0 L321.4 673.5 L322.0 674.5 L322.2 674.8 L322.5 675.5 L323.1 676.3 L323.6 677.2 L323.9 677.7 L324.3 678.5 L324.2 678.4 L325.2 680.1 L325.8 681.1 L326.0 681.5 L326.2 681.6 L326.5 682.2 L327.1 683.2 L327.3 683.5 L328.0 684.7 L328.3 685.0 L328.8 686.2 L329.3 687.0 L329.2 686.7 L330.1 688.0 L330.3 688.4 L330.6 688.9 L331.1 689.8 L331.6 690.6 L332.2 691.7 L332.2 691.6 L333.1 693.0 L333.8 693.9 L333.9 694.2 L334.3 694.9 L334.7 695.3 L334.8 695.8 L335.7 696.8 L336.0 697.5 L336.6 698.2 L337.3 699.4 L337.4 699.6 L337.8 700.2 L338.4 701.2 L338.3 701.1 L338.8 701.8 L339.5 702.6 L339.8 703.3 L340.5 704.3 L340.7 704.7 L341.5 705.9 L342.0 706.4 L342.3 706.9 L342.5 707.3 L343.2 708.2 L343.7 708.9 L343.9 709.0 L344.5 710.1 L345.0 710.9 L345.5 711.3 L346.1 712.3 L346.5 712.9 L346.6 713.1 L347.2 714.0 L347.6 714.3 L348.2 715.4 L348.4 715.7 L349.3 716.7 L349.6 717.3 L350.1 718.1 L350.4 718.5 L350.7 718.8 L351.8 720.1 L351.9 720.4 L352.6 721.4 L352.9 721.8 L353.5 722.5 L354.0 723.5 L354.4 723.7 L355.0 724.5 L355.0 724.6 L355.9 725.7 L356.2 726.1 L356.7 726.8 L357.2 727.5 L357.7 728.2 L358.5 729.0 L358.4 729.0 L359.1 730.0 L359.5 730.4 L360.3 731.5 L360.5 731.8 L361.2 732.6 L361.5 733.1 L362.1 734.0 L362.7 734.6 L363.0 734.9 L363.6 735.7 L363.9 736.0 L364.7 736.9 L365.2 737.7 L365.5 738.0 L366.3 739.0 L366.3 739.0 L366.8 739.7 L367.4 740.3 L368.0 741.2 L368.6 741.9 L369.1 742.5 L369.6 743.1 L370.3 743.8 L370.6 744.2 L371.0 744.7 L371.5 745.4 L372.5 746.5 L372.4 746.4 L373.3 747.3 L374.0 748.2 L374.3 748.7 L374.7 749.0 L375.3 749.8 L376.0 750.6 L376.5 751.2 L376.8 751.4 L377.5 752.4 L378.0 752.8 L378.6 753.7 L379.2 754.3 L379.5 754.6 L379.8 755.1 L380.6 755.9 L381.4 756.7 L381.7 757.2 L382.2 757.6 L383.0 758.6 L383.1 758.7 L384.0 759.5 L384.2 760.0 L384.9 760.6 L385.4 761.2 L386.2 762.0 L386.3 762.3 L387.0 762.9 L387.4 763.3 L388.2 764.2 L388.6 764.6 L389.2 765.4 L389.6 765.7 L390.3 766.4 L391.0 767.2 L391.3 767.6 L392.0 768.4 L392.5 768.9 L393.0 769.4 L393.4 769.8 L394.2 770.7 L394.7 771.2 L395.3 771.9 L395.6 772.0 L396.2 772.6 L396.6 773.3 L397.3 773.9 L398.1 774.7 L398.6 775.2 L399.1 775.7 L399.7 776.3 L400.3 777.0 L400.8 777.4 L401.4 778.1 L402.0 778.6 L402.3 778.9 L403.0 779.7 L403.8 780.4 L404.2 780.8 L404.8 781.3 L405.3 781.9 L405.9 782.5 L406.6 783.2 L407.1 783.6 L407.5 784.1 L407.9 784.4 L408.7 785.3 L409.1 785.7 L409.7 786.3 L410.6 787.1 L411.2 787.6 L411.5 787.9 L412.3 788.7 L412.8 789.3 L413.3 789.7 L414.0 790.4 L414.4 790.7 L415.0 791.3 L415.6 791.9 L416.2 792.4 L417.0 793.1 L417.3 793.5 L417.9 794.1 L418.5 794.6 L419.2 795.2 L419.8 795.7 L420.4 796.4 L420.9 796.8 L421.5 797.3 L422.1 797.9 L422.8 798.5 L423.3 798.9 L424.0 799.5 L424.8 800.2 L425.1 800.6 L425.8 801.1 L426.5 801.8 L426.9 802.1 L427.5 802.7 L428.0 803.2 L428.8 803.8 L429.4 804.3 L430.0 804.8 L430.6 805.3 L431.3 806.0 L431.9 806.4 L432.3 806.8 L433.0 807.4 L433.6 808.0 L434.3 808.5 L434.8 809.0 L435.4 809.5 L436.0 810.0 L436.5 810.4 L437.2 811.1 L437.8 811.6 L438.5 812.1 L439.0 812.6 L439.7 813.1 L440.2 813.6 L440.9 814.1 L441.6 814.7 L442.1 815.1 L442.8 815.7 L443.3 816.1 L444.0 816.7 L444.6 817.1 L445.2 817.7 L445.9 818.2 L446.6 818.7 L447.1 819.2 L447.8 819.7 L448.4 820.2 L449.0 820.7 L449.7 821.2 L450.3 821.7 L450.9 822.2 L451.5 822.7 L452.2 823.2 L452.8 823.6 L453.4 824.2 L454.1 824.6 L454.7 825.1 L455.3 825.6 L455.9 826.0 L456.6 826.6 L457.2 827.1 L457.9 827.6 L458.5 828.0 L459.1 828.5 L459.8 829.1 L460.4 829.5 L461.1 829.9 L461.7 830.5 L462.4 831.0 L463.0 831.4 L463.6 831.9 L464.2 832.3 L464.9 832.8 L465.6 833.3 L466.2 833.8 L466.8 834.2 L467.5 834.7 L468.2 835.2 L468.8 835.6 L469.5 836.2 L470.1 836.6 L470.7 837.0 L471.4 837.5 L472.0 838.0 L472.7 838.4 L473.4 838.9 L474.0 839.4 L474.6 839.8 L475.3 840.3 L476.0 840.7 L476.6 841.2 L477.3 841.6 L477.9 842.1 L478.6 842.6 L479.2 843.0 L479.9 843.5 L480.6 843.9 L481.2 844.4 L481.9 844.8 L482.6 845.3 L483.2 845.7 L483.9 846.2 L484.6 846.6 L485.2 847.1 L485.9 847.5 L486.6 847.9 L487.2 848.4 L487.9 848.8 L488.6 849.3 L489.2 849.7 L489.9 850.1 L490.6 850.6 L491.2 851.0 L491.9 851.4 L492.6 851.9 L493.3 852.3 L493.9 852.7 L494.6 853.2 L495.3 853.6 L496.0 854.0 L496.6 854.5 L497.3 854.9 L498.0 855.3 L498.7 855.7 L499.3 856.2 L500.0 856.6 L500.7 857.0 L501.4 857.4 L502.1 857.9 L502.7 858.3 L503.4 858.7 L504.1 859.1 L504.8 859.5 L505.5 859.9 L506.2 860.4 L506.8 860.8 L507.5 861.2 L508.2 861.6 L508.9 862.0 L509.6 862.4 L510.3 862.8 L511.0 863.2 L511.6 863.6 L512.3 864.0 L513.0 864.5 L513.7 864.9 L514.4 865.3 L515.1 865.7 L515.8 866.1 L516.5 866.5 L517.2 866.9 L517.9 867.3 L518.6 867.7 L519.3 868.1 L520.0 868.5 L520.7 868.8 L521.3 869.2 L522.0 869.6 L522.7 870.0 L523.4 870.4 L524.1 870.8 L524.8 871.2 L525.5 871.6 L526.2 872.0 L526.9 872.4 L527.6 872.7 L528.3 873.1 L529.0 873.5 L529.7 873.9 L530.4 874.3 L531.1 874.7 L531.9 875.0 L532.6 875.4 L533.3 875.8 L534.0 876.2 L534.7 876.6 L535.4 876.9 L536.1 877.3 L536.8 877.7 L537.5 878.1 L538.2 878.4 L538.9 878.8 L539.6 879.2 L540.3 879.5 L541.0 879.9 L541.8 880.3 L542.5 880.6 L543.2 881.0 L543.9 881.4 L544.6 881.7 L545.3 882.1 L546.0 882.5 L546.7 882.8 L547.5 883.2 L548.2 883.5 L548.9 883.9 L549.6 884.3 L550.3 884.6 L551.0 885.0 L551.8 885.3 L552.5 885.7 L553.2 886.0 L553.9 886.4 L554.6 886.7 L555.3 887.1 L556.1 887.4 L556.8 887.8 L557.5 888.1 L558.2 888.5 L558.9 888.8 L559.7 889.2 L560.4 889.5 L561.1 889.9 L561.8 890.2 L562.6 890.6 L563.3 890.9 L564.0 891.2 L564.7 891.6 L565.4 891.9 L566.2 892.2 L566.9 892.6 L567.6 892.9 L568.4 893.3 L569.1 893.6 L569.8 893.9 L570.5 894.3 L571.3 894.6 L572.0 894.9 L572.7 895.3 L573.4 895.6 L574.2 895.9 L574.9 896.2 L575.6 896.6 L576.4 896.9 L577.1 897.2 L577.8 897.5 L578.6 897.9 L579.3 898.2 L580.0 898.5 L580.8 898.8 L581.5 899.2 L582.2 899.5 L583.0 899.8 L583.7 900.1 L584.4 900.4 L585.2 900.8 L585.9 901.1 L586.6 901.4 L587.4 901.7 L588.1 902.0 L588.8 902.3 L589.6 902.6 L590.3 903.0 L591.0 903.3 L591.8 903.6 L592.5 903.9 L593.3 904.2 L594.0 904.5 L594.7 904.8 L595.5 905.1 L596.2 905.4 L596.9 905.7 L597.7 906.0 L598.4 906.3 L599.2 906.6 L599.9 906.9 L600.6 907.2 L601.4 907.5 L602.1 907.8 L602.9 908.1 L603.6 908.4 L604.4 908.7 L605.1 909.0 L605.8 909.3 L606.6 909.6 L607.3 909.9 L608.1 910.2 L608.8 910.5 L609.6 910.8 L610.3 911.1 L611.1 911.4 L611.8 911.7 L612.5 912.0 L613.3 912.3 L614.0 912.6 L614.8 912.8 L615.5 913.1 L616.3 913.4 L617.0 913.7 L617.8 914.0 L618.5 914.3 L619.3 914.6 L620.0 914.8 L620.8 915.1 L621.5 915.4 L622.3 915.7 L623.0 916.0 L623.8 916.2 L624.5 916.5 L625.3 916.8 L626.0 917.1 L626.8 917.4 L627.5 917.6 L628.3 917.9 L629.0 918.2 L629.8 918.5 L630.5 918.7 L631.3 919.0 L632.0 919.3 L632.8 919.6 L633.5 919.8 L634.3 920.1 L635.0 920.4 L635.8 920.6 L636.5 920.9 L637.3 921.2 L638.0 921.4 L638.8 921.7 L639.5 922.0 L640.3 922.3 L641.1 922.5 L641.8 922.8 L642.6 923.0 L643.3 923.3 L644.1 923.6 L644.8 923.8 L645.6 924.1 L646.3 924.4 L647.1 924.6 L647.9 924.9 L648.6 925.1 L649.4 925.4 L650.1 925.7 L650.9 925.9 L651.6 926.2 L652.4 926.4 L653.2 926.7 L653.9 926.9 L654.7 927.2 L655.4 927.5 L656.2 927.7 L656.9 928.0 L657.7 928.2 L658.5 928.5 L659.2 928.7 L660.0 929.0 L660.7 929.2 L661.5 929.5 L662.3 929.7 L663.0 930.0 L663.8 930.2 L664.5 930.5 L665.3 930.7 L666.1 931.0 L666.8 931.2 L667.6 931.5 L668.3 931.7 L669.1 932.0 L669.9 932.2 L670.6 932.5 L671.4 932.7 L672.2 932.9 L672.9 933.2 L673.7 933.4 L674.4 933.7 L675.2 933.9 L676.0 934.1 L676.7 934.4 L677.5 934.6 L678.3 934.9 L679.0 935.1 L679.8 935.3 L680.5 935.6 L681.3 935.8 L682.1 936.1 L682.8 936.3 L683.6 936.5 L684.4 936.8 L685.1 937.0 L685.9 937.2 L686.7 937.5 L687.4 937.7 L688.2 937.9 L689.0 938.2 L689.7 938.4 L690.5 938.6 L691.3 938.9 L692.0 939.1 L692.8 939.3 L693.6 939.6 L694.3 939.8 L695.1 940.0 L695.8 940.3 L696.6 940.5 L697.4 940.7 L698.1 940.9 L698.9 941.2 L699.7 941.4 L700.4 941.6 L701.2 941.9 L702.0 942.1 L702.8 942.3 L703.5 942.5 L704.3 942.8 L705.1 943.0 L705.8 943.2 L706.6 943.4 L707.4 943.7 L708.1 943.9 L708.9 944.1 L709.7 944.3 L710.4 944.5 L711.2 944.8 L712.0 945.0 L712.7 945.2 L713.5 945.4 L714.3 945.7 L715.0 945.9 L715.8 946.1 L716.6 946.3 L717.4 946.5 L718.1 946.7 L718.9 947.0 L719.7 947.2 L720.4 947.4 L721.2 947.6 L722.0 947.8 L722.7 948.0 L723.5 948.3 L724.3 948.5 L725.1 948.7 L725.8 948.9 L726.6 949.1 L727.4 949.3 L728.1 949.6 L728.9 949.8 L729.7 950.0 L730.5 950.2 L731.2 950.4 L732.0 950.6 L732.8 950.8 L733.5 951.0 L734.3 951.2 L735.1 951.5 L735.9 951.7 L736.6 951.9 L737.4 952.1 L738.2 952.3 L738.9 952.5 L739.7 952.7 L740.5 952.9 L741.3 953.1 L742.0 953.3 L742.8 953.6 L743.6 953.8 L744.3 954.0 L745.1 954.2 L745.9 954.4 L746.7 954.6 L747.4 954.8 L748.2 955.0 L749.0 955.2 L749.8 955.4 L750.5 955.6 L751.3 955.8 L752.1 956.0 L752.9 956.2 L753.6 956.4 L754.4 956.6 L755.2 956.8 L755.9 957.0 L756.7 957.2 L757.5 957.4 L758.3 957.6 L759.0 957.9 L759.8 958.1 L760.6 958.3 L761.4 958.5 L762.1 958.7 L762.9 958.9 L763.7 959.1 L764.5 959.3 L765.2 959.5 L766.0 959.7 L766.8 959.9 L767.6 960.1 L768.3 960.3 L769.1 960.5 L769.9 960.7 L770.7 960.9 L771.4 961.0 L772.2 961.2 L773.0 961.4 L773.8 961.6 L774.5 961.8 L775.3 962.0 L776.1 962.2 L776.9 962.4 L777.6 962.6 L778.4 962.8 L779.2 963.0 L780.0 963.2 L780.7 963.4 L781.5 963.6 L782.3 963.8 L783.1 964.0 L783.8 964.2 L784.6 964.4 L785.4 964.6 L786.2 964.8 L787.0 965.0 L787.7 965.2 L788.5 965.3 L789.3 965.5 L790.1 965.7 L790.8 965.9 L791.6 966.1 L792.4 966.3 L793.2 966.5 L793.9 966.7 L794.7 966.9 L795.5 967.1 L796.3 967.3 L797.0 967.5 L797.8 967.7 L798.6 967.8 L799.4 968.0 L800.2 968.2 L800.9 968.4 L801.7 968.6 L802.5 968.8 L803.3 969.0 L804.0 969.2 L804.8 969.4 L805.6 969.6 L806.4 969.7 L807.1 969.9 L807.9 970.1 L808.7 970.3 L809.5 970.5 L810.3 970.7 L811.0 970.9 L811.8 971.1 L812.6 971.2 L813.4 971.4 L814.1 971.6 L814.9 971.8 L815.7 972.0 L816.5 972.2 L817.3 972.4 L818.0 972.6 L818.8 972.7 L819.6 972.9 L820.4 973.1 L821.1 973.3 L821.9 973.5 L822.7 973.7 L823.5 973.9 L824.3 974.0 L825.0 974.2 L825.8 974.4 L826.6 974.6 L827.4 974.8 L828.2 975.0 L828.9 975.2 L829.7 975.3 L830.5 975.5 L831.3 975.7 L832.0 975.9 L832.8 976.1 L833.6 976.3 L834.4 976.4 L835.2 976.6 L835.9 976.8 L836.7 977.0 L837.5 977.2 L838.3 977.4 L839.1 977.5 L839.8 977.7 L840.6 977.9 L841.4 978.1 L842.2 978.3 L842.9 978.5 L843.7 978.6 L844.5 978.8 L845.3 979.0 L846.1 979.2 L846.8 979.4 L847.6 979.6 L848.4 979.7 L849.2 979.9 L850.0 980.1 L850.7 980.3 L851.5 980.5 L852.3 980.6 L853.1 980.8 L853.9 981.0 L854.6 981.2 L855.4 981.4 L856.2 981.5 L857.0 981.7 L857.8 981.9 L858.5 982.1 L859.3 982.3 L860.1 982.4 L860.9 982.6 L861.6 982.8 L862.4 983.0 L863.2 983.2 L864.0 983.3 L864.8 983.5 L865.5 983.7 L866.3 983.9 L867.1 984.1 L867.9 984.2 L868.7 984.4 L869.4 984.6 L870.2 984.8 L871.0 985.0 L871.8 985.1 L872.6 985.3 L873.3 985.5 L874.1 985.7 L874.9 985.9 L875.7 986.0 L876.5 986.2 L877.2 986.4 L878.0 986.6 L878.8 986.7 L879.6 986.9 L880.4 987.1 L881.1 987.3 L881.9 987.5 L882.7 987.6 L883.5 987.8 L884.3 988.0 L885.0 988.2 L885.8 988.3 L886.6 988.5 L887.4 988.7 L888.2 988.9 L888.9 989.0 L889.7 989.2 L890.5 989.4 L891.3 989.6 L892.1 989.8 L892.8 989.9 L893.6 990.1 L894.4 990.3 L895.2 990.5 L896.0 990.6 L896.7 990.8 L897.5 991.0 L898.3 991.2 L899.1 991.3 L899.9 991.5 L900.6 991.7 L901.4 991.9 L902.2 992.1 L903.0 992.2 L903.8 992.4 L904.5 992.6 L905.3 992.8 L906.1 992.9 L906.9 993.1 L907.7 993.3 L908.5 993.5 L909.2 993.6 L910.0 993.8 L910.8 994.0 L911.6 994.2 L912.4 994.3 L913.1 994.5 L913.9 994.7 L914.7 994.9 L915.5 995.0 L916.3 995.2 L917.0 995.4 L917.8 995.6 L918.6 995.7 L919.4 995.9 L920.2 996.1 L920.9 996.3 L921.7 996.4 L922.5 996.6 L923.3 996.8 L924.1 997.0 L924.8 997.1 L925.6 997.3 L926.4 997.5 L927.2 997.7 L928.0 997.8 L928.7 998.0 L929.5 998.2 L930.3 998.4 L931.1 998.5 L931.9 998.7 L932.7 998.9 L933.4 999.0 L934.2 999.2 L935.0 999.4 L935.8 999.6 L936.6 999.7 L937.3 999.9 L938.1 1000.1 L938.9 1000.3 L939.7 1000.4 L940.5 1000.6 L941.2 1000.8 L942.0 1001.0 L942.8 1001.1 L943.6 1001.3 L944.4 1001.5 L945.1 1001.7 L945.9 1001.8 L946.7 1002.0 L947.5 1002.2 L948.3 1002.4 L949.1 1002.5 L949.8 1002.7 L950.6 1002.9 L951.4 1003.0 L952.2 1003.2 L953.0 1003.4 L953.7 1003.6 L954.5 1003.7 L955.3 1003.9 L956.1 1004.1 L956.9 1004.3 L957.6 1004.4 L958.4 1004.6 L959.2 1004.8 L960.0 1004.9 L960.8 1005.1 L961.5 1005.3 L962.3 1005.5 L963.1 1005.6 L963.9 1005.8 L964.7 1006.0 L965.5 1006.2 L966.2 1006.3 L967.0 1006.5 L967.8 1006.7 L968.6 1006.9 L969.4 1007.0 L970.1 1007.2 L970.9 1007.4 L971.7 1007.5 L972.5 1007.7 L973.3 1007.9 L974.0 1008.1 L974.8 1008.2 L975.6 1008.4 L976.4 1008.6 L977.2 1008.7 L978.0 1008.9 L978.7 1009.1 L979.5 1009.3 L980.3 1009.4 L981.1 1009.6 L981.9 1009.8 L982.6 1010.0 L983.4 1010.1 L984.2 1010.3 L985.0 1010.5 L985.8 1010.6 L986.5 1010.8 L987.3 1011.0 L988.1 1011.2 L988.9 1011.3 L989.2 1011.4" stroke="#daa520" stroke-width="6.15" stroke-dasharray="22.76 9.84" stroke-linecap="butt"/>
<path d="M230.7 798.0 L231.2 800.5 L232.5 812.5 L234.3 801.2 L236.3 813.0 L238.3 801.2 L240.3 813.2 L242.3 801.4 L244.3 813.3 L246.3 802.0 L248.3 813.6 L250.0 806.5 L252.0 816.5 L254.5 811.8 L257.0 817.2 L259.5 813.0 L262.0 818.0 L264.0 817.5 L266.7 823.6 L268.5 823.6 L270.4 825.2 L272.3 826.4 L274.2 827.1 L276.1 829.8 L278.0 830.1 L280.0 831.3 L281.9 831.6 L283.9 833.1 L285.9 833.7 L287.9 834.0 L289.9 835.6 L291.8 836.4 L293.8 837.5 L295.8 838.2 L297.7 839.0 L299.7 839.8 L301.6 841.4 L303.5 842.9 L305.4 843.5 L307.3 844.6 L309.2 846.1 L311.0 846.5 L312.9 848.1 L314.8 849.5 L316.7 850.7 L318.6 851.7 L320.5 852.3 L322.4 853.5 L324.3 855.5 L326.2 856.9 L328.2 856.6 L330.1 858.1 L332.1 858.9 L334.0 860.5 L335.9 861.0 L337.9 862.6 L339.9 862.8 L341.8 864.2 L343.8 865.6 L345.7 865.9 L347.7 866.9 L349.6 869.0 L351.6 869.1 L353.5 870.2 L355.5 871.0 L357.4 872.4 L359.4 873.7 L361.4 874.6 L363.3 875.5 L365.3 876.5 L367.3 877.4 L369.2 878.1 L371.2 879.0 L373.2 880.1 L375.2 881.5 L377.2 881.6 L379.2 883.1 L381.2 883.6 L383.2 885.0 L385.2 885.7 L387.2 887.2 L389.2 886.8 L391.2 888.0 L393.2 889.5 L395.2 889.8 L397.2 891.9 L399.2 892.2 L401.2 893.3 L403.2 894.1 L405.2 894.9 L407.2 895.3 L409.2 896.3 L411.2 897.5 L413.3 898.4 L415.3 898.9 L417.3 899.5 L419.3 901.2 L421.3 901.7 L423.4 902.7 L425.4 904.1 L427.4 904.5 L429.5 904.6 L431.5 905.6 L433.5 907.0 L435.6 907.5 L437.6 908.8 L439.7 909.4 L441.7 910.1 L443.7 910.8 L445.8 911.9 L447.8 912.0 L449.9 913.4 L451.9 914.4 L454.0 914.7 L456.0 915.9 L458.1 916.1 L460.1 916.9 L462.2 917.7 L464.2 919.2 L466.3 919.9 L468.3 920.3 L470.4 921.6 L472.5 921.8 L474.5 922.3 L476.6 923.3 L478.7 923.8 L480.7 925.2 L482.8 926.7 L484.9 926.3 L487.0 926.9 L489.1 927.5 L491.2 928.6 L493.2 929.7 L495.3 930.1 L497.4 930.2 L499.5 931.2 L501.6 932.3 L503.7 932.8 L505.8 933.7 L507.9 933.5 L510.0 933.7 L512.1 935.1 L514.2 935.5 L516.3 936.4 L518.5 937.1 L520.6 937.7 L522.7 938.2 L524.8 939.0 L526.9 940.0 L529.0 940.4 L531.1 941.1 L533.2 941.2 L535.3 942.2 L537.4 943.0 L539.5 943.1 L541.6 944.5 L543.7 945.6 L545.8 945.2 L547.9 945.5 L550.0 946.7 L552.1 947.8 L554.2 948.0 L556.3 948.2 L558.4 949.0 L560.5 949.8 L562.6 950.4 L564.8 951.1 L566.9 951.9 L569.0 952.1 L571.1 953.1 L573.2 953.3 L575.3 954.0 L577.4 954.8 L579.5 954.8 L581.6 956.5 L583.7 957.2 L585.8 957.8 L587.9 958.4 L590.0 958.4 L592.1 959.8 L594.3 960.1 L596.4 960.9 L598.5 961.0 L600.6 961.5 L602.7 962.4 L604.8 963.7 L606.9 963.9 L609.1 964.6 L611.2 966.2 L613.3 964.9 L615.4 966.0 L617.5 966.6 L619.7 967.1 L621.8 967.7 L623.9 968.2 L626.0 969.1 L628.1 969.9 L630.2 972.7 L632.4 971.5 L634.5 971.4 L636.6 974.3 L638.7 973.4 L640.8 973.5 L642.9 974.2 L645.1 974.8 L647.2 975.0 L649.3 978.6 L651.5 976.0 L653.6 976.1 L655.7 978.0 L657.9 982.0 L660.0 980.0 L662.2 979.2 L664.3 980.2 L666.4 980.8 L668.6 980.5 L670.7 980.8 L672.9 981.0 L675.0 982.4 L677.1 983.1 L679.3 983.4 L681.4 983.7 L683.5 987.4 L685.6 984.0 L687.7 987.3 L689.9 986.0 L692.0 985.7 L694.1 989.3 L696.2 988.7 L698.3 989.8 L700.5 990.1 L702.6 989.5 L704.7 993.6 L706.8 991.4 L708.9 993.1 L711.1 992.1 L713.2 992.3 L715.3 995.3 L717.4 995.7 L719.6 997.0 L721.7 994.8 L723.8 995.7 L725.9 995.6 L728.1 998.1 L730.2 999.4 L732.3 998.2 L734.4 997.7 L736.6 999.4 L738.7 999.2 L740.8 999.9 L743.0 1001.9 L745.1 1001.6 L747.3 1002.4 L749.4 1005.9 L751.5 1010.6 L753.7 1005.6 L755.8 1005.4 L757.9 1004.6 L760.0 1005.1 L762.2 1005.1 L764.3 1006.8 L766.4 1006.5 L768.5 1006.0 L770.6 1007.3 L772.7 1007.5 L774.7 1009.0 L776.8 1008.8 L778.9 1010.0 L781.0 1010.3 L783.0 1011.4 L785.1 1011.8 L787.2 1012.9 L789.3 1013.5 L791.3 1014.2 L793.4 1015.2 L795.5 1016.3 L797.5 1016.4 L799.6 1017.7 L801.6 1018.2 L803.7 1019.0 L805.7 1020.4 L807.8 1019.9 L809.8 1021.2 L811.9 1021.6 L814.0 1022.8 L816.0 1023.6 L818.1 1025.5 L820.2 1025.1 L822.3 1026.2 L824.4 1026.6 L826.6 1026.7 L828.7 1027.6 L830.8 1028.5 L832.9 1028.6 L835.1 1029.2 L837.2 1029.9 L839.3 1029.9 L841.4 1030.7 L843.5 1031.6 L845.3 1032.2" stroke="#808080" stroke-width="6.15" stroke-linecap="square"/>
<path d="M241.3 598.6 L241.3 598.6 L241.9 601.9 L241.8 601.5 L241.6 598.6 L242.1 602.0 L242.7 606.0 L243.8 611.8 L241.6 601.0 L243.1 608.2 L244.3 615.4 L243.2 607.4 L244.7 614.1 L241.4 598.6 L244.5 615.7 L243.5 610.2 L242.3 603.1 L244.4 615.2 L244.5 617.2 L245.2 618.5 L245.4 619.3 L244.5 614.8 L243.6 612.7 L244.3 614.6 L244.7 617.2 L245.2 619.9 L244.6 616.9 L245.6 619.9 L246.2 624.2 L245.8 622.7 L248.0 631.7 L247.9 631.9 L245.3 618.8 L245.9 622.0 L245.5 619.6 L245.5 621.1 L247.6 629.0 L246.1 623.4 L246.5 623.9 L247.2 627.9 L248.5 633.2 L247.5 629.1 L247.6 629.9 L249.1 636.0 L248.9 634.9 L249.4 635.6 L249.5 638.5 L248.0 631.0 L249.4 637.0 L248.8 634.2 L250.3 642.0 L250.7 641.8 L248.7 634.9 L251.2 645.6 L248.7 636.0 L251.5 646.4 L250.7 643.2 L250.2 639.4 L249.6 639.3 L250.7 643.4 L251.2 645.3 L250.7 643.3 L252.5 649.3 L250.7 641.9 L252.0 648.5 L252.2 649.3 L250.9 642.2 L253.1 652.1 L251.7 646.4 L250.4 642.1 L252.8 650.6 L253.3 653.0 L254.8 658.4 L253.5 653.5 L256.6 662.1 L256.2 662.9 L256.2 662.2 L257.0 663.8 L255.6 660.7 L255.3 657.6 L256.4 663.5 L256.8 665.6 L256.7 663.2 L256.0 662.2 L254.7 657.5 L257.7 667.4 L258.0 666.7 L255.7 660.9 L257.8 667.3 L258.7 670.6 L258.1 668.0 L259.2 672.4 L259.6 673.0 L256.9 664.8 L258.4 670.4 L260.0 674.2 L260.7 676.7 L261.8 679.4 L257.6 666.9 L260.5 674.9 L261.5 678.9 L262.4 681.7 L263.7 684.2 L260.0 674.7 L261.1 677.6 L260.9 675.5 L263.4 683.8 L260.4 676.2 L264.7 686.6 L265.0 686.3 L263.5 683.9 L263.4 683.5 L263.8 684.9 L264.4 686.2 L264.3 686.0 L264.8 687.3 L265.1 688.1 L265.6 689.3 L265.8 689.8 L266.0 690.5 L266.2 690.9 L266.5 691.9 L266.9 692.6 L267.3 693.7 L267.4 694.0 L268.0 695.3 L267.7 694.9 L268.6 696.8 L268.6 697.0 L269.2 698.3 L269.3 698.6 L269.6 699.7 L270.2 700.6 L270.1 700.5 L270.4 701.6 L270.7 702.2 L271.2 703.1 L271.1 703.1 L271.7 704.4 L272.0 705.1 L272.2 705.6 L272.7 706.6 L272.7 706.8 L273.5 708.7 L273.7 709.1 L274.4 710.4 L274.1 710.0 L274.4 710.6 L275.1 711.9 L275.0 711.8 L275.7 713.3 L275.9 713.6 L276.3 714.5 L276.7 715.5 L277.0 716.2 L277.6 717.6 L277.8 717.8 L277.8 717.8 L278.5 719.4 L278.4 719.2 L279.1 720.5 L279.2 720.7 L279.5 721.6 L280.4 723.1 L280.4 723.1 L280.8 723.8 L281.1 724.5 L281.5 725.3 L282.1 726.8 L282.1 726.4 L282.4 727.1 L283.1 728.6 L283.0 728.4 L283.7 729.6 L284.3 730.9 L284.5 731.2 L284.8 731.7 L285.1 732.3 L285.5 732.9 L285.9 733.7 L286.5 734.7 L287.0 735.9 L287.4 736.5 L287.5 736.6 L287.8 737.2 L288.4 738.5 L288.3 738.2 L289.0 739.4 L289.3 740.2 L289.7 740.5 L290.1 741.3 L290.8 742.5 L290.7 742.4 L291.2 743.4 L291.7 744.2 L292.3 745.1 L292.4 745.3 L293.3 746.9 L293.4 747.1 L293.8 747.8 L294.3 748.4 L294.6 749.0 L294.9 749.6 L295.8 751.0 L296.0 751.4 L296.4 751.9 L297.1 753.0 L297.1 753.1 L297.8 754.2 L298.1 754.7 L298.3 755.1 L299.1 756.3 L299.1 756.2 L299.9 757.7 L300.0 757.8 L300.7 758.9 L301.3 759.9 L301.6 760.3 L301.8 760.6 L302.4 761.4 L302.6 762.1 L303.0 762.4 L303.4 763.1 L304.2 764.1 L304.7 765.0 L304.5 764.9 L305.5 766.1 L306.0 767.0 L306.4 767.5 L306.6 767.8 L307.5 769.1 L307.5 769.0 L308.3 770.3 L309.1 771.2 L308.5 770.8 L309.6 772.1 L310.1 772.8 L310.5 773.4 L310.8 773.7 L311.4 774.5 L311.6 774.8 L312.4 776.0 L313.0 776.7 L313.2 777.0 L313.6 777.5 L314.2 778.3 L314.8 779.1 L315.3 779.8 L315.7 780.4 L316.2 781.1 L316.3 781.3 L316.5 781.5 L317.9 783.1 L318.5 784.1 L318.4 783.8 L319.0 784.7 L319.7 785.6 L320.4 786.4 L320.8 786.9 L321.4 787.7 L321.5 788.1 L322.2 788.8 L322.7 789.4 L322.9 789.8 L323.9 790.9 L324.2 791.4 L324.9 792.0 L325.1 792.2 L325.7 793.4 L325.9 793.3 L326.7 794.3 L326.5 794.1 L327.3 795.2 L328.4 796.2 L328.5 796.6 L329.2 797.4 L329.3 797.5 L330.6 799.0 L330.9 799.3 L331.3 799.7 L332.0 800.4 L332.3 801.1 L333.2 801.9 L333.4 802.2 L333.5 802.4 L334.4 803.3 L335.2 804.3 L335.6 804.7 L335.9 805.1 L336.7 805.9 L337.1 806.4 L337.7 807.2 L337.8 807.1 L338.5 807.8 L339.4 808.9 L339.7 809.3 L340.4 809.9 L341.3 811.0 L341.3 811.0 L341.9 811.8 L342.4 812.1 L342.9 812.7 L343.6 813.3 L343.8 813.6 L344.2 814.1 L345.5 815.5 L345.8 815.7 L346.6 816.6 L346.9 816.9 L347.5 817.5 L348.1 818.2 L348.7 818.8 L348.8 818.9 L349.9 820.0 L350.0 820.1 L350.9 820.8 L352.0 822.0 L352.0 822.0 L352.9 822.9 L353.0 823.1 L353.8 823.9 L354.2 824.3 L354.9 824.9 L355.1 825.3 L355.8 825.7 L356.6 826.5 L356.7 826.8 L357.5 827.5 L358.3 828.3 L358.7 828.6 L359.2 829.1 L359.8 829.6 L360.6 830.3 L361.1 830.8 L361.9 831.4 L362.3 832.0 L363.2 832.9 L363.4 833.0 L363.7 833.3 L364.7 834.2 L365.3 834.7 L365.9 835.3 L366.1 835.6 L367.2 836.5 L367.6 836.9 L368.2 837.4 L368.5 837.7 L369.5 838.5 L370.0 839.0 L370.8 839.8 L371.2 839.9 L371.6 840.4 L372.4 841.1 L372.9 841.4 L373.7 842.2 L374.1 842.5 L374.8 843.2 L375.4 843.7 L376.0 844.3 L376.6 844.7 L377.2 845.1 L377.9 845.8 L378.4 846.2 L379.1 846.9 L379.8 847.2 L380.0 847.5 L381.0 848.3 L381.8 849.1 L382.3 849.4 L382.9 850.0 L383.5 850.5 L384.0 850.8 L384.5 851.2 L385.4 852.0 L386.1 852.6 L386.7 853.0 L387.3 853.4 L387.9 853.9 L388.4 854.4 L389.1 854.9 L389.7 855.3 L390.4 855.9 L390.8 856.2 L391.5 856.8 L392.3 857.5 L392.8 857.8 L393.1 858.1 L394.1 858.9 L394.5 859.0 L395.7 860.0 L396.1 860.4 L396.7 860.9 L397.3 861.1 L397.8 861.5 L398.6 862.2 L399.2 862.7 L399.8 863.0 L400.5 863.6 L401.3 864.1 L401.9 864.5 L402.3 864.9 L402.8 865.3 L403.7 866.0 L404.3 866.4 L405.1 867.0 L405.9 867.5 L406.6 868.0 L407.1 868.3 L407.8 868.9 L408.5 869.4 L408.9 869.7 L409.6 870.3 L410.4 870.7 L410.9 871.0 L411.5 871.5 L412.1 872.0 L412.9 872.4 L413.5 872.8 L414.3 873.4 L414.8 873.8 L415.7 874.4 L416.3 874.8 L416.7 875.1 L417.6 875.7 L418.2 876.0 L419.0 876.6 L419.6 877.0 L420.2 877.4 L420.9 877.8 L421.4 878.3 L422.2 878.7 L422.9 879.2 L423.5 879.6 L424.2 880.1 L424.8 880.4 L425.6 881.0 L426.1 881.3 L426.9 881.9 L427.6 882.2 L428.3 882.7 L428.8 883.1 L429.8 883.8 L430.2 883.9 L430.9 884.4 L431.5 884.8 L432.4 885.3 L432.9 885.7 L433.7 886.2 L434.2 886.5 L435.0 887.0 L435.6 887.3 L436.4 887.8 L437.0 888.2 L437.6 888.6 L438.4 889.1 L439.0 889.4 L439.7 889.9 L440.5 890.3 L441.0 890.6 L441.8 891.2 L442.5 891.5 L443.1 891.9 L443.9 892.4 L444.6 892.8 L445.2 893.1 L445.9 893.6 L446.6 894.0 L447.3 894.4 L448.0 894.8 L448.6 895.2 L449.3 895.6 L450.0 896.0 L450.8 896.4 L451.5 896.8 L452.2 897.2 L452.9 897.6 L453.5 898.0 L454.2 898.4 L454.9 898.8 L455.7 899.2 L456.2 899.5 L457.0 900.0 L457.7 900.4 L458.4 900.7 L459.2 901.2 L459.8 901.6 L460.5 901.9 L461.2 902.3 L461.9 902.7 L462.6 903.1 L463.3 903.4 L464.0 903.9 L464.7 904.2 L465.4 904.6 L466.2 905.0 L466.9 905.4 L467.5 905.7 L468.2 906.1 L469.0 906.5 L469.7 906.9 L470.4 907.2 L471.0 907.6 L471.8 908.0 L472.5 908.3 L473.2 908.7 L473.9 909.1 L474.6 909.5 L475.3 909.8 L476.0 910.2 L476.7 910.6 L477.5 910.9 L478.1 911.3 L478.9 911.7 L479.6 912.0 L480.3 912.5 L481.0 913.1 L481.7 913.6 L482.4 914.2 L483.1 914.7 L483.9 915.3 L484.6 915.8 L485.3 916.4 L486.0 916.9 L486.7 917.5 L487.5 918.0 L488.2 918.5 L488.9 919.1 L489.6 919.6 L490.3 920.1 L491.0 920.6 L491.8 921.1 L492.5 921.6 L493.2 922.1 L493.9 922.6 L494.7 923.1 L495.4 923.6 L496.1 924.0 L496.8 924.5 L497.5 925.0 L498.3 925.4 L499.0 925.9 L499.7 926.3 L500.4 926.8 L501.2 927.2 L501.9 927.7 L502.6 928.1 L503.3 928.5 L504.1 929.0 L504.8 929.4 L505.5 929.8 L506.2 930.2 L507.0 930.6 L507.7 931.0 L508.4 931.4 L509.2 931.8 L509.9 932.2 L510.6 932.6 L511.4 933.0 L512.1 933.3 L512.8 933.7 L513.5 934.1 L514.3 934.4 L515.0 934.8 L515.7 935.3 L516.5 935.8 L517.2 936.3 L517.9 936.7 L518.7 937.9 L519.4 937.5 L520.0 938.1 L520.2 937.3 L521.0 938.5 L521.7 938.1 L522.5 938.3 L523.3 938.4 L524.0 938.6 L524.8 938.9 L525.6 939.4 L526.3 939.2 L527.1 939.6 L527.8 940.2 L528.6 939.9 L529.4 941.0 L530.1 940.5 L530.9 940.6 L531.7 941.4 L532.4 942.0 L533.2 941.6 L534.0 942.1 L534.7 942.2 L535.5 942.2 L536.3 942.9 L537.0 943.4 L537.8 943.0 L538.5 943.0 L539.3 943.5 L540.1 943.5 L540.8 944.3 L541.6 944.0 L542.4 944.9 L543.1 945.2 L543.9 945.5 L544.7 945.2 L545.4 946.4 L546.2 945.9 L547.0 946.0 L547.7 948.1 L548.5 945.9 L549.3 946.8 L550.0 946.7 L550.8 947.8 L551.6 946.9 L552.3 947.5 L553.1 948.0 L553.9 947.7 L554.6 948.9 L555.4 948.4 L556.2 948.4 L556.9 949.8 L557.7 948.9 L558.5 949.8 L559.2 949.7 L560.0 949.9 L560.8 949.9 L561.5 950.5 L562.3 951.4 L563.1 951.1 L563.8 950.6 L564.6 952.6 L565.4 951.2 L566.1 951.8 L566.9 951.9 L567.7 952.4 L568.4 952.5 L569.2 953.5 L570.0 952.5 L570.7 954.0 L571.5 954.2 L572.3 953.1 L573.0 953.6 L573.8 954.0 L574.6 954.1 L575.3 954.8 L576.1 955.4 L576.8 954.6 L577.6 955.9 L578.4 955.9 L579.1 956.2 L579.9 956.3 L580.7 956.0 L581.4 956.4 L582.2 956.7 L583.0 957.6 L583.7 957.1 L584.5 957.9 L585.3 957.5 L586.0 958.0 L586.8 958.1 L587.6 958.7 L588.3 959.0 L589.1 958.6 L589.9 958.5 L590.6 959.0 L591.4 959.0 L592.2 959.1 L592.9 959.3 L593.7 959.6 L594.5 960.2 L595.2 960.3 L596.0 960.2 L596.8 960.6 L597.5 960.9 L598.3 961.4 L599.1 961.4 L599.9 962.5 L600.6 961.5 L601.4 962.0 L602.2 962.4 L602.9 962.4 L603.7 962.5 L604.5 962.7 L605.2 963.2 L606.0 963.8 L606.8 963.3 L607.5 963.6 L608.3 964.1 L609.1 964.8 L609.9 964.3 L610.6 965.7 L611.4 964.6 L612.2 966.0 L612.9 965.8 L613.7 966.0 L614.5 965.9 L615.2 966.0 L616.0 966.3 L616.8 966.1 L617.6 967.5 L618.3 966.9 L619.1 966.9 L619.9 968.3 L620.6 967.8 L621.4 968.1 L622.2 968.0 L622.9 968.6 L623.7 968.7 L624.5 968.8 L625.3 968.7 L626.0 969.2 L626.8 969.0 L627.6 969.5 L628.3 969.7 L629.1 970.7 L629.9 970.4 L630.6 974.1 L631.4 970.8 L632.2 973.5 L633.0 971.2 L633.7 971.9 L634.5 973.1 L635.3 973.1 L636.0 971.8 L636.8 972.1 L637.6 974.6 L638.3 972.8 L639.1 973.3 L639.9 975.5 L640.7 973.5 L641.4 973.1 L642.2 974.7 L643.0 973.9 L643.7 975.4 L644.5 976.1 L645.3 974.1 L646.1 975.3 L646.8 975.6 L647.6 976.8 L648.4 975.2 L649.2 977.3 L649.9 979.0 L650.7 978.9 L651.5 978.0 L652.3 978.3 L653.0 976.7 L653.8 978.2 L654.6 977.8 L655.4 978.0 L656.1 977.2 L656.9 978.4 L657.7 977.4 L658.5 978.4 L659.3 980.6 L660.0 979.6 L660.8 978.9 L661.6 979.3 L662.4 978.6 L663.2 978.7 L663.9 978.9 L664.7 979.7 L665.5 980.2 L666.3 979.4 L667.0 980.1 L667.8 979.7 L668.6 980.8 L669.4 981.7 L670.2 982.7 L670.9 981.0 L671.7 981.3 L672.5 981.8 L673.3 982.7 L674.0 982.3 L674.8 981.7 L675.6 981.6 L676.4 984.2 L677.2 982.3 L677.9 982.4 L678.7 982.6 L679.5 986.4 L680.2 985.5 L681.0 983.1 L681.8 985.1 L682.6 984.9 L683.3 985.6 L684.1 985.6 L684.9 985.3 L685.7 985.2 L686.4 984.7 L687.2 987.4 L688.0 985.2 L688.7 985.4 L689.5 986.0 L690.3 985.7 L691.0 985.9 L691.8 986.8 L692.6 986.1 L693.4 986.9 L694.1 987.0 L694.9 988.8 L695.7 989.2 L696.4 988.0 L697.2 987.8 L698.0 989.0 L698.8 988.0 L699.5 989.5 L700.3 991.6 L701.1 990.8 L701.8 991.5 L702.6 990.0 L703.4 989.9 L704.1 989.6 L704.9 989.9 L705.7 991.3 L706.5 991.3 L707.2 990.4 L708.0 991.6 L708.8 994.0 L709.6 993.1 L710.3 991.3 L711.1 991.5 L711.9 992.0 L712.6 991.9 L713.4 993.8 L714.2 993.4 L715.0 992.4 L715.7 993.5 L716.5 994.9 L717.3 995.9 L718.0 993.0 L718.8 994.3 L719.6 995.9 L720.4 994.0 L721.1 995.2 L721.9 995.9 L722.7 995.2 L723.5 994.7 L724.2 997.2 L725.0 995.4 L725.8 997.8 L726.5 996.0 L727.3 995.6 L728.1 998.9 L728.9 996.1 L729.6 996.3 L730.4 997.2 L731.2 997.1 L732.0 998.9 L732.7 997.3 L733.5 997.5 L734.3 999.8 L735.1 1001.6 L735.8 999.4 L736.6 999.4 L737.4 999.4 L738.2 999.3 L738.9 999.5 L739.7 999.0 L740.5 1000.8 L741.3 1001.1 L742.0 1001.6 L742.8 1002.3 L743.6 1001.6 L744.4 1002.2 L745.1 1002.4 L745.9 1002.7 L746.7 1000.8 L747.5 1002.5 L748.3 1002.6 L749.0 1001.5 L749.8 1002.5 L750.4 1002.0" stroke="#808080" stroke-width="6.15" stroke-dasharray="22.76 9.84" stroke-linecap="butt"/>
<path d="M234.2 556.6 L234.2 565.0 L234.4 573.0 L230.0 576.5 L240.5 578.5 L229.6 580.5 L241.0 582.5 L229.6 584.5 L241.2 586.5 L229.6 588.5 L241.3 590.5 L229.8 592.5 L241.5 594.0 L231.0 595.5 L241.5 597.0" stroke="#808080" stroke-width="6.15" stroke-linecap="butt"/>
</g></g>
<rect x="152.20" y="41.30" width="2.9" height="1063.40" fill="#ececec"/>
<rect x="157.90" y="1099.00" width="1628.15" height="2.9" fill="#f6f6f6"/>
<g fill="none" stroke-width="2.8">
<path d="M156.5 41.300000000000004 V1104.7" stroke="#5e5e5e"/>
<path d="M1787.45 41.300000000000004 V1104.7" stroke="#4e4e4e"/>
<path d="M155.1 42.7 H1788.8500000000001" stroke="#404040"/>
<path d="M155.1 1103.3 H1788.8500000000001" stroke="#444444"/>
</g>
<path d="M216.25 1103.3 v9.4 M446.19 1103.3 v9.4 M676.13 1103.3 v9.4 M906.07 1103.3 v9.4 M1136.01 1103.3 v9.4 M1365.95 1103.3 v9.4 M1595.89 1103.3 v9.4" stroke="#555" stroke-width="2.8" fill="none"/>
<path d="M156.5 964.50 h-9.6 M156.5 790.84 h-9.6 M156.5 617.18 h-9.6 M156.5 443.52 h-9.6 M156.5 269.86 h-9.6 M156.5 96.20 h-9.6" stroke="#7c7c7c" stroke-width="4" fill="none"/>
<g font-family="'Liberation Serif', serif" font-weight="bold" font-size="48.6px" fill="#000" style="font-kerning:none" filter="url(#soft)">
<text x="216.25" y="1152.5" text-anchor="middle">0</text>
<text x="446.19" y="1152.5" text-anchor="middle">20</text>
<text x="676.13" y="1152.5" text-anchor="middle">40</text>
<text x="906.07" y="1152.5" text-anchor="middle">60</text>
<text x="1136.01" y="1152.5" text-anchor="middle">80</text>
<text x="1365.95" y="1152.5" text-anchor="middle">100</text>
<text x="1595.89" y="1152.5" text-anchor="middle">120</text>
<text x="137.7" y="981.10" text-anchor="end">10</text>
<text x="137.7" y="807.44" text-anchor="end">20</text>
<text x="137.7" y="633.78" text-anchor="end">30</text>
<text x="137.7" y="460.12" text-anchor="end">40</text>
<text x="137.7" y="286.46" text-anchor="end">50</text>
<text x="137.7" y="112.80" text-anchor="end">60</text>
<text x="971.8" y="1204.4" text-anchor="middle">Strain (%)</text>
<text transform="translate(68.5 573.5) rotate(-90)" text-anchor="middle">Young's modulus (MPa)</text>
<path d="M1351.4 102.6 H1448.6" stroke="#9400d3" stroke-width="6.15" stroke-linecap="square" fill="none"/>
<text x="1489.2" y="121.7">Flat (Y)</text>
<path d="M1351.4 171.7 H1450.0" stroke="#9400d3" stroke-width="6.15" stroke-dasharray="22.76 9.84" fill="none"/>
<text x="1489.2" y="190.8">Flat (N)</text>
<path d="M1351.4 240.8 H1448.6" stroke="#daa520" stroke-width="6.15" stroke-linecap="square" fill="none"/>
<text x="1489.2" y="259.9">On-edge (Y)</text>
<path d="M1351.4 309.8 H1450.0" stroke="#daa520" stroke-width="6.15" stroke-dasharray="22.76 9.84" fill="none"/>
<text x="1489.2" y="328.9">On-edge (N)</text>
<path d="M1351.4 378.9 H1448.6" stroke="#808080" stroke-width="6.15" stroke-linecap="square" fill="none"/>
<text x="1489.2" y="398.0">Upright (Y)</text>
<path d="M1351.4 448.0 H1450.0" stroke="#808080" stroke-width="6.15" stroke-dasharray="22.76 9.84" fill="none"/>
<text x="1489.2" y="467.1">Upright (N)</text>
</g>
</svg>
</body></html>
